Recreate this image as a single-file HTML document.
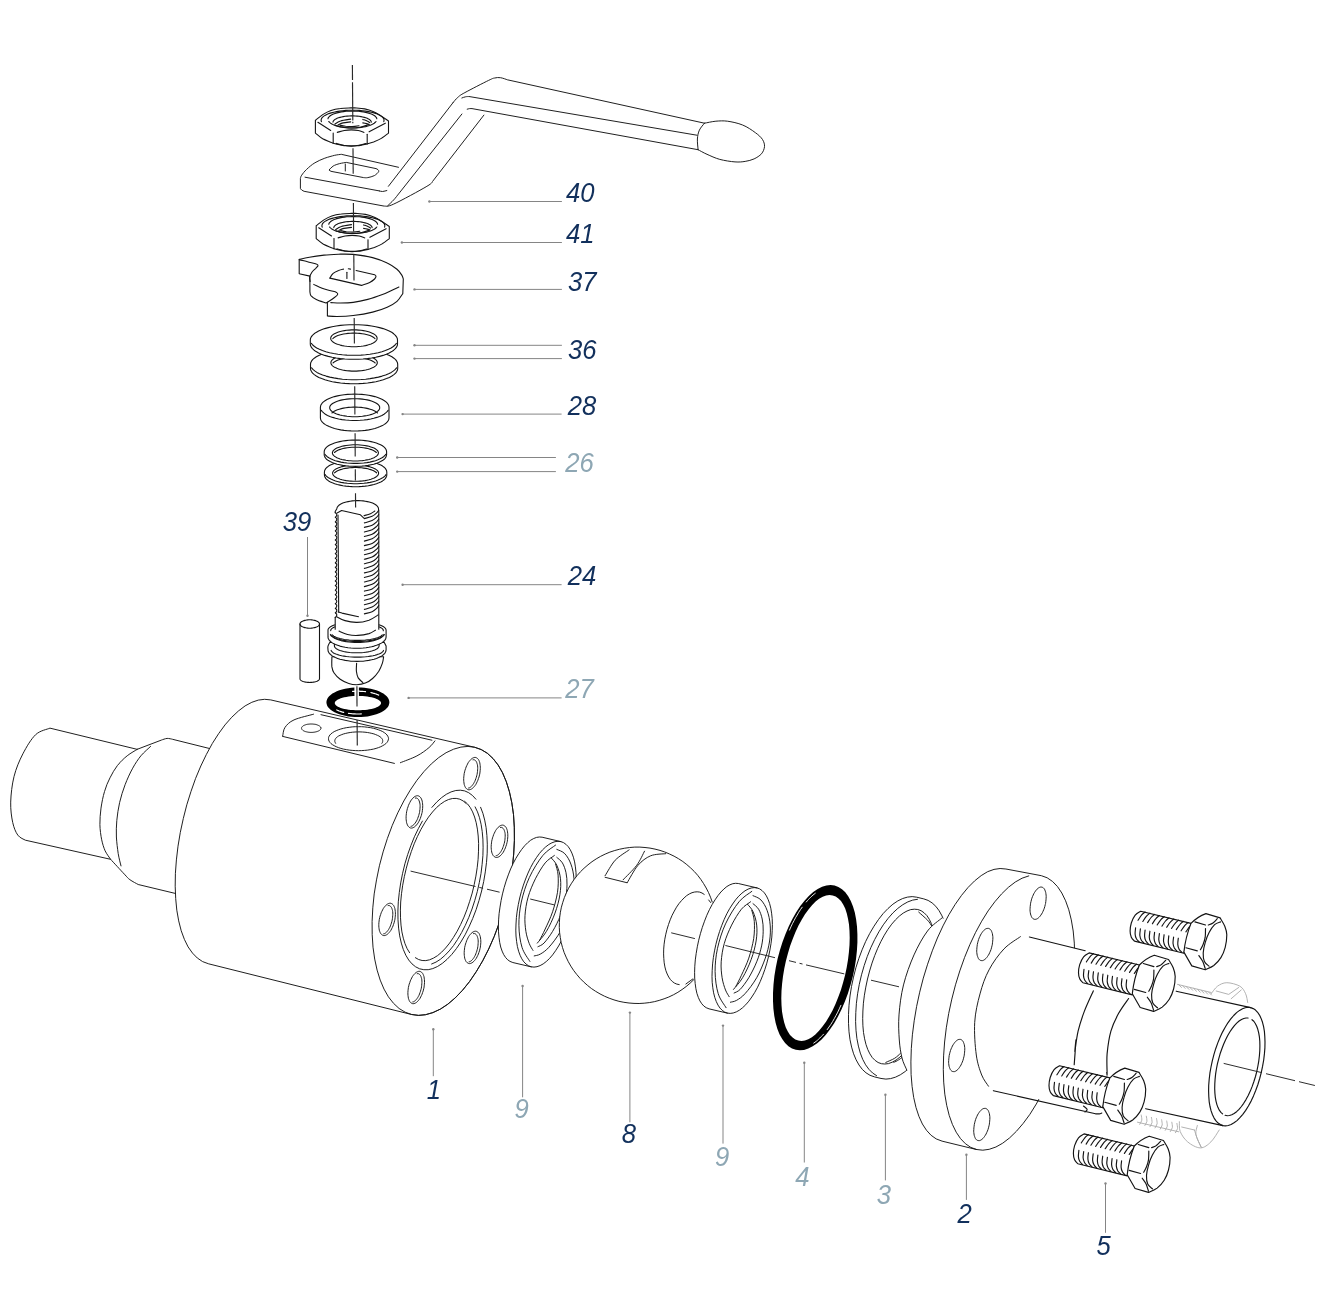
<!DOCTYPE html>
<html><head><meta charset="utf-8"><title>Ball valve exploded view</title><style>html,body{margin:0;padding:0;background:#fff}svg{display:block;will-change:transform}</style></head><body>
<svg width="1337" height="1307" viewBox="0 0 1337 1307">
<style>.k{fill:none;stroke:#141414;stroke-width:1.1;stroke-linecap:round;stroke-linejoin:round}.kw{fill:#fff;stroke:#141414;stroke-width:1.1;stroke-linecap:round;stroke-linejoin:round}.b{fill:none;stroke:#141414;stroke-width:1.15;stroke-linecap:round;stroke-linejoin:round}.bw{fill:#fff;stroke:#141414;stroke-width:1.15;stroke-linecap:round;stroke-linejoin:round}.t{fill:none;stroke:#141414;stroke-width:0.95;stroke-linecap:round;stroke-linejoin:round}.tw{fill:#fff;stroke:#141414;stroke-width:0.95;stroke-linecap:round;stroke-linejoin:round}.m{fill:none;stroke:#141414;stroke-width:0.95;stroke-linecap:round;stroke-linejoin:round}.mw{fill:#fff;stroke:#141414;stroke-width:0.95;stroke-linecap:round;stroke-linejoin:round}.w{fill:#fff;stroke:none}.c{fill:none;stroke:#222;stroke-width:0.95}.cv{fill:none;stroke:#2a2a2a;stroke-width:1.15}.blk{fill:#000;fill-rule:evenodd;stroke:none}.hl{fill:none;stroke:#fff;stroke-width:0.9;stroke-linecap:round}.hl2{fill:none;stroke:#fff;stroke-width:1.2;stroke-linecap:round}.halo{fill:none;stroke:#fff;stroke-width:4.5}.gh{fill:none;stroke:#a9a9a9;stroke-width:0.9;stroke-linecap:round}.ld{fill:none;stroke:#858585;stroke-width:1}.dot{fill:#858585}text{font-family:"Liberation Sans",sans-serif;font-style:italic;font-size:27.6px}</style>
<rect width="1337" height="1307" fill="#fff"/>
<path class="tw" d="M49.6,728.3 C47.3,729.4 40.1,730.4 35.6,734.7 C31.2,738.9 26.5,746.8 22.9,753.8 C19.3,760.7 16,768.6 14,776.6 C12,784.7 10.9,794.4 10.7,802.1 C10.5,809.7 11.5,816.9 12.7,822.4 C13.9,827.9 15.7,832.2 17.8,835.1 C19.9,838.1 24.2,839.4 25.4,840.2 L110.6,859.3 C112.9,861.8 121.2,870.8 124.4,874.2 C127.6,877.6 127.6,878 129.9,879.7 C132.2,881.4 136.8,883.7 138.2,884.5 L178.1,894.1 L213.9,749.6 L172.6,739.3 C171.7,739.1 168.9,738.3 167.1,738.4 C165.3,738.6 162.5,739.7 161.6,740 L137.5,749.2 Z"/>
<path class="t" d="M137.5,749.2 C135.8,750.3 130.5,753.1 127.2,755.8 C123.8,758.5 120.4,761.8 117.5,765.4 C114.7,769.1 112.1,773.5 110,777.8 C107.8,782.2 105.9,786.5 104.5,791.6 C103,796.6 101.8,802.6 101,808.1 C100.3,813.6 99.8,819.3 99.9,824.6 C100,829.9 100.8,835.4 101.7,839.8 C102.6,844.1 103.7,847.5 105.1,850.8 C106.6,854 109.7,857.9 110.6,859.3"/>
<path class="t" d="M150.6,746.4 C149,748 143.9,752.2 140.9,755.8 C138,759.4 135.3,763.4 132.7,768.2 C130,773 127.3,779 125.1,784.7 C122.9,790.4 121,796.6 119.6,802.6 C118.2,808.6 117.4,814.8 116.8,820.5 C116.3,826.2 116.2,831.5 116.4,837 C116.7,842.5 117.5,848.7 118.2,853.5 C119,858.4 120.5,863.9 121,865.9"/>
<path class="tw" d="M208.3,963.7 L202.6,961.6 L197.3,958 L192.5,953.1 L188.1,946.9 L184.4,939.4 L181.2,930.7 L178.7,920.9 L176.8,910.2 L175.7,898.6 L175.2,886.2 L175.4,873.3 L176.4,859.9 L178,846.2 L180.3,832.4 L183.3,818.5 L186.8,804.8 L191,791.4 L195.6,778.4 L200.8,766 L206.4,754.4 L212.3,743.5 L218.6,733.7 L225,724.9 L231.7,717.3 L238.4,711 L245.1,705.9 L251.8,702.3 L258.3,700.1 L264.6,699.3 L270.7,699.9 L474.8,747.3 L481.3,749.6 L487.4,753.3 L493,758.5 L498.1,765 L502.5,772.7 L506.3,781.7 L509.4,791.7 L511.8,802.7 L513.5,814.6 L514.3,827.2 L514.4,840.3 L513.7,854 L512.3,867.9 L510,881.9 L507.1,896 L503.4,909.9 L499.1,923.4 L494.2,936.5 L488.7,949 L482.7,960.8 L476.3,971.6 L469.6,981.5 L462.5,990.3 L455.2,997.9 L447.8,1004.2 L440.4,1009.1 L432.9,1012.6 L425.6,1014.7 L418.5,1015.4 L411.7,1014.5 Z"/>
<path class="t" d="M507.1,896 L503.4,909.9 L499.1,923.4 L494.2,936.5 L488.7,949 L482.7,960.8 L476.3,971.6 L469.6,981.5 L462.5,990.3 L455.2,997.9 L447.8,1004.2 L440.4,1009.1 L432.9,1012.6 L425.6,1014.7 L418.5,1015.4 L411.7,1014.5 L405.2,1012.2 L399.1,1008.5 L393.5,1003.3 L388.4,996.8 L384,989.1 L380.2,980.1 L377.1,970.1 L374.7,959.1 L373,947.2 L372.2,934.6 L372.1,921.5 L372.8,907.8 L374.2,893.9 L376.5,879.9 L379.4,865.8 L383.1,851.9 L387.4,838.4 L392.3,825.3 L397.8,812.8 L403.8,801 L410.2,790.2 L416.9,780.3 L424,771.5 L431.3,763.9 L438.7,757.6 L446.1,752.7 L453.6,749.2 L460.9,747.1 L468,746.4 L474.8,747.3 L481.3,749.6 L487.4,753.3 L493,758.5 L498.1,765 L502.5,772.7 L506.3,781.7 L509.4,791.7 L511.8,802.7 L513.5,814.6 L514.3,827.2 L514.4,840.3 L513.7,854 L512.3,867.9 L510,881.9 Z"/>
<path class="t" d="M282.7,736.4 L394.4,763.4"/>
<path class="t" d="M321,714.7 L431.9,740.2"/>
<path class="t" d="M282.7,736.1 C283.1,734.7 283.1,730.1 285,727.4 C286.9,724.7 289.2,722.1 294,719.9 C298.7,717.7 310.2,715.2 313.5,714.2"/>
<path class="t" d="M400.4,762.7 C403.2,761.5 412.2,758.4 416.9,755.9 C421.7,753.4 425.9,750.2 428.9,747.7 C431.9,745.2 433.9,742.1 434.9,740.9"/>
<path class="t" d="M320.9,728.2 L320.9,728.6 L320.7,729.1 L320.5,729.5 L320.1,729.9 L319.6,730.3 L319.1,730.7 L318.4,731 L317.7,731.3 L316.9,731.6 L316.1,731.8 L315.2,732 L314.2,732.2 L313.2,732.3 L312.2,732.4 L311.2,732.4 L310.2,732.4 L309.2,732.3 L308.2,732.2 L307.3,732 L306.4,731.8 L305.5,731.6 L304.7,731.3 L304,731 L303.4,730.7 L302.8,730.3 L302.4,729.9 L302,729.5 L301.7,729.1 L301.6,728.6 L301.5,728.2 L301.6,727.7 L301.7,727.3 L302,726.9 L302.4,726.5 L302.8,726.1 L303.4,725.7 L304,725.4 L304.7,725.1 L305.5,724.8 L306.4,724.5 L307.3,724.3 L308.2,724.2 L309.2,724.1 L310.2,724 L311.2,724 L312.2,724 L313.2,724.1 L314.2,724.2 L315.2,724.3 L316.1,724.5 L316.9,724.8 L317.7,725.1 L318.4,725.4 L319.1,725.7 L319.6,726.1 L320.1,726.5 L320.5,726.9 L320.7,727.3 L320.9,727.7 Z"/>
<path class="t" d="M388.5,738.7 L388.3,739.9 L387.8,741.2 L387,742.4 L385.9,743.6 L384.4,744.7 L382.7,745.7 L380.8,746.7 L378.5,747.6 L376.1,748.4 L373.5,749.1 L370.7,749.6 L367.7,750.1 L364.7,750.4 L361.6,750.6 L358.5,750.7 L355.3,750.6 L352.2,750.4 L349.2,750.1 L346.3,749.6 L343.5,749.1 L340.8,748.4 L338.4,747.6 L336.2,746.7 L334.2,745.7 L332.5,744.7 L331,743.6 L329.9,742.4 L329.1,741.2 L328.6,739.9 L328.5,738.7 L328.6,737.4 L329.1,736.2 L329.9,735 L331,733.8 L332.5,732.7 L334.2,731.6 L336.2,730.7 L338.4,729.8 L340.8,729 L343.5,728.3 L346.3,727.7 L349.2,727.3 L352.2,726.9 L355.3,726.7 L358.5,726.7 L361.6,726.7 L364.7,726.9 L367.7,727.3 L370.7,727.7 L373.5,728.3 L376.1,729 L378.5,729.8 L380.8,730.7 L382.7,731.6 L384.4,732.7 L385.9,733.8 L387,735 L387.8,736.2 L388.3,737.4 Z"/>
<path class="t" d="M335.6,743.3 L335.1,742.3 L334.8,741.4 L334.8,740.5 L335.1,739.5 L335.6,738.6 L336.3,737.7 L337.4,736.8 L338.6,736 L340.1,735.3 L341.8,734.6 L343.7,733.9 L345.7,733.4 L347.9,732.9 L350.2,732.5 L352.5,732.2 L355,732 L357.5,731.9 L360,731.9 L362.5,732 L365,732.2 L367.4,732.5 L369.7,732.9 L371.8,733.4 L373.9,733.9 L375.7,734.6 L377.4,735.3 L378.9,736 L380.1,736.8 L381.2,737.7 L381.9,738.6 L382.5,739.5 L382.7,740.5 L382.7,741.4 L382.5,742.3 L381.9,743.3"/>
<path class="t" d="M480.6,807.3 L482.9,813.3 L484.7,820.1 L486.1,827.6 L486.9,835.6 L487.3,844.2 L487.2,853.2 L486.5,862.4 L485.3,871.9 L483.7,881.5 L481.6,891 L479,900.5 L476.1,909.7 L472.7,918.5 L469,926.9 L465.1,934.8 L460.8,942.1 L456.4,948.6 L451.8,954.4 L447,959.4 L442.3,963.4 L437.5,966.5 L432.8,968.6 L428.2,969.7 L423.8,969.7 L419.6,968.8 L415.6,966.8 L412,963.9 L408.7,960 L405.8,955.2 L403.3,949.5 L401.3,943.1 L399.7,935.9 L398.6,928.1 L398,919.8 L397.9,911 L398.3,901.8 L399.3,892.4 L400.7,882.9 L402.6,873.3 L404.9,863.8 L407.7,854.5 L410.9,845.5 L414.4,836.8 L418.3,828.7 L422.4,821.1"/>
<path class="t" d="M431.9,807.4 L436.7,802.1 L441.5,797.7 L446.3,794.3 L451.1,791.9 L455.8,790.5 L460.3,790.2 L464.7,790.9 L468.7,792.7 L472.5,795.5 L475.9,799.2"/>
<path class="t" d="M475.1,806.9 L477.5,811.9 L479.5,817.7 L481.1,824.3 L482.2,831.4 L482.9,839.1 L483.1,847.2 L482.9,855.7 L482.1,864.5 L481,873.5 L479.3,882.5 L477.3,891.5 L474.8,900.4 L472,909 L468.8,917.4 L465.3,925.3 L461.6,932.6 L457.6,939.4 L453.5,945.6 L449.2,950.9 L444.8,955.5 L440.4,959.3 L436,962.1 L431.6,964"/>
<path class="t" d="M464.6,801.3 L467.6,804 L470.3,807.6 L472.6,811.9 L474.6,817 L476.2,822.7 L477.4,829.1 L478.2,836 L478.6,843.4 L478.5,851.2 L478.1,859.3 L477.2,867.7 L475.9,876.1 L474.2,884.6 L472.2,893.1 L469.7,901.3 L467,909.4 L464,917.1 L460.7,924.4 L457.2,931.2 L453.4,937.5 L449.6,943.1 L445.6,948 L441.6,952.2 L437.6,955.6 L433.5,958.1 L429.6,959.8 L425.8,960.6 L422.1,960.5 L418.6,959.5 L415.4,957.7"/>
<path class="t" d="M409.6,952.7 L407.1,948.6 L405,943.7 L403.3,938.2 L401.9,931.9 L401,925.1 L400.5,917.8 L400.4,910.1 L400.7,902 L401.5,893.7 L402.7,885.2 L404.3,876.7 L406.3,868.2 L408.6,859.8 L411.3,851.6 L414.2,843.8 L417.5,836.3 L421,829.3 L424.7,822.9 L428.5,817.1 L432.5,812 L436.5,807.6 L440.6,804.1 L444.7,801.3 L448.6,799.5 L452.5,798.5 L456.2,798.4 L459.8,799.2 L463.1,800.9 L466.1,803.5"/>
<path class="t" d="M479.4,775.3 L479,777 L478.4,778.6 L477.9,780.2 L477.2,781.7 L476.5,783.1 L475.8,784.5 L475,785.6 L474.1,786.7 L473.3,787.6 L472.4,788.4 L471.5,789 L470.7,789.4 L469.8,789.7 L469,789.8 L468.2,789.7 L467.5,789.4 L466.7,788.9 L466.1,788.3 L465.5,787.6 L465,786.6 L464.6,785.6 L464.2,784.4 L464,783 L463.8,781.6 L463.7,780.1 L463.7,778.5 L463.8,776.9 L464,775.2 L464.2,773.5 L464.6,771.9 L465,770.2 L465.6,768.6 L466.1,767 L466.8,765.5 L467.5,764.1 L468.2,762.7 L469,761.6 L469.9,760.5 L470.7,759.6 L471.6,758.8 L472.5,758.2 L473.3,757.8 L474.2,757.5 L475,757.4 L475.8,757.5 L476.5,757.8 L477.3,758.3 L477.9,758.9 L478.5,759.6 L479,760.6 L479.4,761.6 L479.8,762.8 L480,764.2 L480.2,765.6 L480.3,767.1 L480.3,768.7 L480.2,770.3 L480,772 L479.8,773.7 Z"/>
<path class="t" d="M473,759.8 L473.7,759.7 L474.3,759.8 L474.9,760.1 L475.5,760.6 L476,761.1 L476.4,761.8 L476.8,762.7 L477.1,763.7 L477.4,764.7 L477.6,765.9 L477.7,767.2 L477.7,768.5 L477.6,769.9 L477.5,771.4 L477.3,772.9 L477.1,774.3 L476.7,775.8 L476.3,777.3 L475.8,778.7 L475.3,780.1 L474.8,781.4 L474.1,782.6 L473.5,783.7 L472.8,784.7 L472.1,785.6 L471.4,786.4 L470.7,787 L470,787.5 L469.3,787.9 L468.6,788"/>
<path class="t" d="M421.8,813.6 L421.4,815.3 L420.8,816.9 L420.3,818.5 L419.6,820 L418.9,821.4 L418.2,822.8 L417.4,823.9 L416.5,825 L415.7,825.9 L414.8,826.7 L413.9,827.3 L413.1,827.7 L412.2,828 L411.4,828.1 L410.6,828 L409.9,827.7 L409.1,827.2 L408.5,826.6 L407.9,825.9 L407.4,824.9 L407,823.9 L406.6,822.7 L406.4,821.3 L406.2,819.9 L406.1,818.4 L406.1,816.8 L406.2,815.2 L406.4,813.5 L406.6,811.8 L407,810.2 L407.4,808.5 L408,806.9 L408.5,805.3 L409.2,803.8 L409.9,802.4 L410.6,801 L411.4,799.9 L412.3,798.8 L413.1,797.9 L414,797.1 L414.9,796.5 L415.7,796.1 L416.6,795.8 L417.4,795.7 L418.2,795.8 L418.9,796.1 L419.7,796.6 L420.3,797.2 L420.9,797.9 L421.4,798.9 L421.8,799.9 L422.2,801.1 L422.4,802.5 L422.6,803.9 L422.7,805.4 L422.7,807 L422.6,808.6 L422.4,810.3 L422.2,812 Z"/>
<path class="t" d="M415.4,798.1 L416.1,798 L416.7,798.1 L417.3,798.4 L417.9,798.9 L418.4,799.4 L418.8,800.1 L419.2,801 L419.5,802 L419.8,803 L420,804.2 L420.1,805.5 L420.1,806.8 L420,808.2 L419.9,809.7 L419.7,811.2 L419.5,812.6 L419.1,814.1 L418.7,815.6 L418.2,817 L417.7,818.4 L417.2,819.7 L416.5,820.9 L415.9,822 L415.2,823 L414.5,823.9 L413.8,824.7 L413.1,825.3 L412.4,825.8 L411.7,826.2 L411,826.3"/>
<path class="t" d="M506.9,843 L506.5,844.7 L505.9,846.3 L505.4,847.9 L504.7,849.4 L504,850.8 L503.3,852.2 L502.5,853.3 L501.6,854.4 L500.8,855.3 L499.9,856.1 L499,856.7 L498.2,857.1 L497.3,857.4 L496.5,857.5 L495.7,857.4 L495,857.1 L494.2,856.6 L493.6,856 L493,855.3 L492.5,854.3 L492.1,853.3 L491.7,852.1 L491.5,850.7 L491.3,849.3 L491.2,847.8 L491.2,846.2 L491.3,844.6 L491.5,842.9 L491.7,841.2 L492.1,839.6 L492.5,837.9 L493.1,836.3 L493.6,834.7 L494.3,833.2 L495,831.8 L495.7,830.4 L496.5,829.3 L497.4,828.2 L498.2,827.3 L499.1,826.5 L500,825.9 L500.8,825.5 L501.7,825.2 L502.5,825.1 L503.3,825.2 L504,825.5 L504.8,826 L505.4,826.6 L506,827.3 L506.5,828.3 L506.9,829.3 L507.3,830.5 L507.5,831.9 L507.7,833.3 L507.8,834.8 L507.8,836.4 L507.7,838 L507.5,839.7 L507.3,841.4 Z"/>
<path class="t" d="M500.5,827.5 L501.2,827.4 L501.8,827.5 L502.4,827.8 L503,828.3 L503.5,828.8 L503.9,829.5 L504.3,830.4 L504.6,831.4 L504.9,832.4 L505.1,833.6 L505.2,834.9 L505.2,836.2 L505.1,837.6 L505,839.1 L504.8,840.6 L504.6,842 L504.2,843.5 L503.8,845 L503.3,846.4 L502.8,847.8 L502.3,849.1 L501.6,850.3 L501,851.4 L500.3,852.4 L499.6,853.3 L498.9,854.1 L498.2,854.7 L497.5,855.2 L496.8,855.6 L496.1,855.7"/>
<path class="t" d="M394.5,921.1 L394.1,922.8 L393.5,924.4 L393,926 L392.3,927.5 L391.6,928.9 L390.9,930.3 L390.1,931.4 L389.2,932.5 L388.4,933.4 L387.5,934.2 L386.6,934.8 L385.8,935.2 L384.9,935.5 L384.1,935.6 L383.3,935.5 L382.6,935.2 L381.8,934.7 L381.2,934.1 L380.6,933.4 L380.1,932.4 L379.7,931.4 L379.3,930.2 L379.1,928.8 L378.9,927.4 L378.8,925.9 L378.8,924.3 L378.9,922.7 L379.1,921 L379.3,919.3 L379.7,917.7 L380.1,916 L380.7,914.4 L381.2,912.8 L381.9,911.3 L382.6,909.9 L383.3,908.5 L384.1,907.4 L385,906.3 L385.8,905.4 L386.7,904.6 L387.6,904 L388.4,903.6 L389.3,903.3 L390.1,903.2 L390.9,903.3 L391.6,903.6 L392.4,904.1 L393,904.7 L393.6,905.4 L394.1,906.4 L394.5,907.4 L394.9,908.6 L395.1,910 L395.3,911.4 L395.4,912.9 L395.4,914.5 L395.3,916.1 L395.1,917.8 L394.9,919.5 Z"/>
<path class="t" d="M388.1,905.6 L388.8,905.5 L389.4,905.6 L390,905.9 L390.6,906.4 L391.1,906.9 L391.5,907.6 L391.9,908.5 L392.2,909.5 L392.5,910.5 L392.7,911.7 L392.8,913 L392.8,914.3 L392.7,915.7 L392.6,917.2 L392.4,918.7 L392.2,920.1 L391.8,921.6 L391.4,923.1 L390.9,924.5 L390.4,925.9 L389.9,927.2 L389.2,928.4 L388.6,929.5 L387.9,930.5 L387.2,931.4 L386.5,932.2 L385.8,932.8 L385.1,933.3 L384.4,933.7 L383.7,933.8"/>
<path class="t" d="M479.9,949.1 L479.5,950.8 L478.9,952.4 L478.4,954 L477.7,955.5 L477,956.9 L476.3,958.3 L475.5,959.4 L474.6,960.5 L473.8,961.4 L472.9,962.2 L472,962.8 L471.2,963.2 L470.3,963.5 L469.5,963.6 L468.7,963.5 L468,963.2 L467.2,962.7 L466.6,962.1 L466,961.4 L465.5,960.4 L465.1,959.4 L464.7,958.2 L464.5,956.8 L464.3,955.4 L464.2,953.9 L464.2,952.3 L464.3,950.7 L464.5,949 L464.7,947.3 L465.1,945.7 L465.5,944 L466.1,942.4 L466.6,940.8 L467.3,939.3 L468,937.9 L468.7,936.5 L469.5,935.4 L470.4,934.3 L471.2,933.4 L472.1,932.6 L473,932 L473.8,931.6 L474.7,931.3 L475.5,931.2 L476.3,931.3 L477,931.6 L477.8,932.1 L478.4,932.7 L479,933.4 L479.5,934.4 L479.9,935.4 L480.3,936.6 L480.5,938 L480.7,939.4 L480.8,940.9 L480.8,942.5 L480.7,944.1 L480.5,945.8 L480.3,947.5 Z"/>
<path class="t" d="M473.5,933.6 L474.2,933.5 L474.8,933.6 L475.4,933.9 L476,934.4 L476.5,934.9 L476.9,935.6 L477.3,936.5 L477.6,937.5 L477.9,938.5 L478.1,939.7 L478.2,941 L478.2,942.3 L478.1,943.7 L478,945.2 L477.8,946.7 L477.6,948.1 L477.2,949.6 L476.8,951.1 L476.3,952.5 L475.8,953.9 L475.3,955.2 L474.6,956.4 L474,957.5 L473.3,958.5 L472.6,959.4 L471.9,960.2 L471.2,960.8 L470.5,961.3 L469.8,961.7 L469.1,961.8"/>
<path class="t" d="M423.6,989.2 L423.2,990.9 L422.6,992.5 L422.1,994.1 L421.4,995.6 L420.7,997 L420,998.4 L419.2,999.5 L418.3,1000.6 L417.5,1001.5 L416.6,1002.3 L415.7,1002.9 L414.9,1003.3 L414,1003.6 L413.2,1003.7 L412.4,1003.6 L411.7,1003.3 L410.9,1002.8 L410.3,1002.2 L409.7,1001.5 L409.2,1000.5 L408.8,999.5 L408.4,998.3 L408.2,996.9 L408,995.5 L407.9,994 L407.9,992.4 L408,990.8 L408.2,989.1 L408.4,987.4 L408.8,985.8 L409.2,984.1 L409.8,982.5 L410.3,980.9 L411,979.4 L411.7,978 L412.4,976.6 L413.2,975.5 L414.1,974.4 L414.9,973.5 L415.8,972.7 L416.7,972.1 L417.5,971.7 L418.4,971.4 L419.2,971.3 L420,971.4 L420.7,971.7 L421.5,972.2 L422.1,972.8 L422.7,973.5 L423.2,974.5 L423.6,975.5 L424,976.7 L424.2,978.1 L424.4,979.5 L424.5,981 L424.5,982.6 L424.4,984.2 L424.2,985.9 L424,987.6 Z"/>
<path class="t" d="M417.2,973.7 L417.9,973.6 L418.5,973.7 L419.1,974 L419.7,974.5 L420.2,975 L420.6,975.7 L421,976.6 L421.3,977.6 L421.6,978.6 L421.8,979.8 L421.9,981.1 L421.9,982.4 L421.8,983.8 L421.7,985.3 L421.5,986.8 L421.3,988.2 L420.9,989.7 L420.5,991.2 L420,992.6 L419.5,994 L419,995.3 L418.3,996.5 L417.7,997.6 L417,998.6 L416.3,999.5 L415.6,1000.3 L414.9,1000.9 L414.2,1001.4 L413.5,1001.8 L412.8,1001.9"/>
<path class="c" d="M410.6,871.1 L475.5,886.5"/>
<path class="c" d="M479.3,887.4 L483.1,888.3"/>
<path class="c" d="M487,889.2 L499.6,892.2"/>
<path class="tw" d="M512.5,962.4 L510,961.4 L507.7,959.8 L505.6,957.5 L503.7,954.6 L502.1,951.1 L500.7,947 L499.7,942.4 L499,937.3 L498.5,931.8 L498.4,926 L498.6,919.9 L499.1,913.6 L500,907.1 L501.1,900.5 L502.5,893.9 L504.2,887.4 L506.1,881.1 L508.3,874.9 L510.6,869 L513.2,863.4 L515.9,858.3 L518.8,853.6 L521.7,849.4 L524.7,845.7 L527.7,842.7 L530.7,840.2 L533.7,838.5 L536.6,837.4 L539.4,837 L542.1,837.2 L560.8,841.6 L563.5,842.6 L565.9,844.3 L568.2,846.6 L570.2,849.6 L571.9,853.1 L573.4,857.2 L574.6,861.9 L575.4,866.9 L576,872.4 L576.2,878.3 L576,884.4 L575.6,890.8 L574.8,897.3 L573.7,903.8 L572.3,910.4 L570.6,916.9 L568.6,923.3 L566.4,929.4 L564,935.3 L561.4,940.9 L558.6,946 L555.6,950.7 L552.6,954.9 L549.5,958.5 L546.3,961.5 L543.2,963.9 L540.1,965.6 L537,966.7 L534,967.1 L531.2,966.8 Z"/>
<path class="t" d="M531.2,966.8 L528.5,965.8 L526.1,964.1 L523.8,961.8 L521.8,958.8 L520.1,955.3 L518.6,951.2 L517.4,946.5 L516.6,941.5 L516,936 L515.8,930.1 L516,924 L516.4,917.6 L517.2,911.1 L518.3,904.6 L519.7,898 L521.4,891.5 L523.4,885.1 L525.6,879 L528,873.1 L530.6,867.5 L533.4,862.4 L536.4,857.7 L539.4,853.5 L542.5,849.9 L545.7,846.9 L548.8,844.5 L551.9,842.8 L555,841.7 L558,841.3 L560.8,841.6"/>
<path class="t" d="M555.6,845.1 C553.5,846.9 547.2,850.1 542.8,855.5 C538.4,860.9 532.9,869.8 529.3,877.6 C525.7,885.3 523.1,894.1 521.3,902 C519.6,910 518.8,917.8 518.9,925.3 C519,932.9 520.1,941.3 522,947.3 C523.8,953.4 528.6,959.1 529.9,961.4"/>
<path class="t" d="M556.8,849.4 C558.2,850.1 562.5,851.2 564.8,853.7 C567.1,856.1 569.4,859.9 570.9,864.1 C572.5,868.3 573.6,873.7 574,878.8 C574.4,883.9 574.2,889.2 573.4,894.7 C572.6,900.2 571.2,905.7 569.1,911.8 C566.9,918 563.9,925.5 560.5,931.4 C557.1,937.3 552.3,943.6 548.9,947.3 C545.5,951.1 542.8,952.6 540.3,954.1 C537.9,955.5 535.2,955.6 534.2,955.9"/>
<path class="t" d="M556.8,857.4 C557.8,858.3 560.8,860.3 562.4,862.9 C563.9,865.4 565.2,869 566,872.7 C566.8,876.3 567.1,880.4 567,884.9 C566.9,889.4 566.5,894.5 565.4,899.6 C564.3,904.7 562.7,910.2 560.5,915.5 C558.4,920.8 555.3,926.8 552.6,931.4 C549.8,936 546.4,940.5 544,943.1 C541.5,945.6 538.9,946.1 537.9,946.7"/>
<path class="t" d="M554.4,855.5 C552.9,856.8 548.4,859 545.2,862.9 C542.1,866.7 538.3,873.1 535.4,878.8 C532.6,884.5 529.8,891 528.1,897.1 C526.3,903.3 525.4,909.8 525,915.5 C524.6,921.2 525.2,926.7 525.9,931.4 C526.6,936.1 528.1,940.5 529.3,943.7 C530.5,946.8 532.4,949.3 533,950.4"/>
<path class="t" d="M551.3,858 C552.3,859.2 555.3,861.9 556.8,865.3 C558.4,868.8 560,873.9 560.5,878.8 C561,883.7 560.8,889 559.9,894.7 C559,900.4 557.3,906.9 555,913.1 C552.8,919.2 549.4,926.4 546.4,931.4 C543.5,936.4 538.8,941.1 537.3,943.1"/>
<path class="t" d="M555.6,864.1 C556,865.9 557.8,870.4 558.1,875.1 C558.4,879.8 558.4,886.1 557.5,892.3 C556.5,898.4 554.6,905.7 552.6,911.8 C550.5,918 547.4,924.3 545.2,929 C543.1,933.7 540.6,938.2 539.7,940"/>
<path class="c" d="M530.2,899 L554.3,904.9"/>
<path class="w" d="M693.8,979.6 L690.1,983.2 L686.2,986.5 L682.1,989.5 L677.9,992.3 L673.4,994.8 L668.8,997 L664.1,998.8 L659.2,1000.4 L654.3,1001.7 L649.3,1002.6 L644.2,1003.2 L639.1,1003.5 L634,1003.4 L629,1003 L623.9,1002.3 L618.9,1001.3 L614,999.9 L609.2,998.2 L604.5,996.2 L600,993.9 L595.6,991.3 L591.4,988.5 L587.4,985.3 L583.6,981.9 L580,978.3 L576.7,974.4 L573.6,970.4 L570.8,966.1 L568.3,961.7 L566.1,957.1 L564.1,952.4 L562.5,947.5 L561.2,942.6 L560.3,937.6 L559.6,932.5 L559.3,927.5 L559.4,922.4 L559.7,917.3 L560.4,912.2 L561.4,907.2 L562.8,902.3 L564.4,897.5 L566.4,892.8 L568.6,888.2 L571.2,883.8 L574,879.6 L577.1,875.6 L580.5,871.7 L584.1,868.2 L588,864.8 L592,861.7 L596.2,858.9 L600.7,856.3 L605.2,854.1 L609.9,852.1 L614.8,850.5 L619.7,849.2 L624.7,848.2 L629.7,847.5 L634.8,847.1 L639.9,847.1 L645,847.5 L650,848.1 L655,849.1 L660,850.4 L664.8,852 L669.5,854 L674.1,856.2 L678.5,858.7 L682.8,861.5 L686.8,864.6 L690.7,868 L694.3,871.5 L697.7,875.3 L700.8,879.4 L703.6,883.6 L706.2,888 L708.5,892.5 L710.5,897.2 L712.2,902 L704.2,894.4 L702,893 L699.7,892.1 L697.2,891.8 L694.7,892 L692,892.7 L689.4,893.9 L686.7,895.6 L684.1,897.9 L681.5,900.6 L678.9,903.7 L676.5,907.2 L674.3,911.1 L672.1,915.3 L670.2,919.8 L668.5,924.5 L667,929.3 L665.8,934.2 L664.8,939.2 L664.1,944.2 L663.7,949.1 L663.6,953.9 L663.8,958.5 L664.2,962.8 L664.9,966.9 L665.9,970.7 L667.2,974 L668.7,977 L670.4,979.5 L672.3,981.5 L674.5,983.1 L676.8,984.1 L679.2,984.6 Z"/>
<path class="t" d="M693.8,979.6 L690.1,983.2 L686.2,986.5 L682.1,989.5 L677.9,992.3 L673.4,994.8 L668.8,997 L664.1,998.8 L659.2,1000.4 L654.3,1001.7 L649.3,1002.6 L644.2,1003.2 L639.1,1003.5 L634,1003.4 L629,1003 L623.9,1002.3 L618.9,1001.3 L614,999.9 L609.2,998.2 L604.5,996.2 L600,993.9 L595.6,991.3 L591.4,988.5 L587.4,985.3 L583.6,981.9 L580,978.3 L576.7,974.4 L573.6,970.4 L570.8,966.1 L568.3,961.7 L566.1,957.1 L564.1,952.4 L562.5,947.5 L561.2,942.6 L560.3,937.6 L559.6,932.5 L559.3,927.5 L559.4,922.4 L559.7,917.3 L560.4,912.2 L561.4,907.2 L562.8,902.3 L564.4,897.5 L566.4,892.8 L568.6,888.2 L571.2,883.8 L574,879.6 L577.1,875.6 L580.5,871.7 L584.1,868.2 L588,864.8 L592,861.7 L596.2,858.9 L600.7,856.3 L605.2,854.1 L609.9,852.1 L614.8,850.5 L619.7,849.2 L624.7,848.2 L629.7,847.5 L634.8,847.1 L639.9,847.1 L645,847.5 L650,848.1 L655,849.1 L660,850.4 L664.8,852 L669.5,854 L674.1,856.2 L678.5,858.7 L682.8,861.5 L686.8,864.6 L690.7,868 L694.3,871.5 L697.7,875.3 L700.8,879.4 L703.6,883.6 L706.2,888 L708.5,892.5 L710.5,897.2 L712.2,902"/>
<path class="t" d="M704.2,894.4 L702,893 L699.7,892.1 L697.2,891.8 L694.7,892 L692,892.7 L689.4,893.9 L686.7,895.6 L684.1,897.9 L681.5,900.6 L678.9,903.7 L676.5,907.2 L674.3,911.1 L672.1,915.3 L670.2,919.8 L668.5,924.5 L667,929.3 L665.8,934.2 L664.8,939.2 L664.1,944.2 L663.7,949.1 L663.6,953.9 L663.8,958.5 L664.2,962.8 L664.9,966.9 L665.9,970.7 L667.2,974 L668.7,977 L670.4,979.5 L672.3,981.5 L674.5,983.1 L676.8,984.1 L679.2,984.6"/>
<path class="t" d="M685.9,984 L692.9,978.9"/>
<path class="t" d="M708.7,900 L710.6,902.5"/>
<path class="t" d="M629.1,849.9 C626.8,851.6 619.2,856 615.2,860.2 C611.3,864.5 606.8,873.1 605.1,875.7"/>
<path class="t" d="M644.5,851.2 C643.2,853.5 640.3,860.5 636.7,865.3 C633.1,870.1 625.3,877.4 623.1,879.8"/>
<path class="t" d="M605.1,877.3 L626.9,882.7"/>
<path class="t" d="M665.7,853.7 C663.2,854 655.2,853.9 650.6,855.8 C646,857.8 641.9,860.8 638,865.3 C634.1,869.8 629,879.8 627.2,882.7"/>
<path class="c" d="M671.2,932.8 L694.9,938.6"/>
<path class="tw" d="M708.7,1008.7 L706.2,1007.7 L703.9,1006.1 L701.8,1003.8 L699.9,1000.9 L698.3,997.4 L696.9,993.3 L695.9,988.7 L695.2,983.6 L694.7,978.1 L694.6,972.3 L694.8,966.2 L695.3,959.9 L696.2,953.4 L697.3,946.8 L698.7,940.2 L700.4,933.7 L702.3,927.4 L704.5,921.2 L706.8,915.3 L709.4,909.7 L712.1,904.6 L715,899.9 L717.9,895.7 L720.9,892 L723.9,889 L726.9,886.5 L729.9,884.8 L732.8,883.7 L735.6,883.3 L738.3,883.5 L757,887.9 L759.7,888.9 L762.1,890.6 L764.4,892.9 L766.4,895.9 L768.1,899.4 L769.6,903.5 L770.8,908.2 L771.6,913.2 L772.2,918.7 L772.4,924.6 L772.2,930.7 L771.8,937.1 L771,943.6 L769.9,950.1 L768.5,956.7 L766.8,963.2 L764.8,969.6 L762.6,975.7 L760.2,981.6 L757.6,987.2 L754.8,992.3 L751.8,997 L748.8,1001.2 L745.7,1004.8 L742.5,1007.8 L739.4,1010.2 L736.3,1011.9 L733.2,1013 L730.2,1013.4 L727.4,1013.1 Z"/>
<path class="t" d="M727.4,1013.1 L724.7,1012.1 L722.3,1010.4 L720,1008.1 L718,1005.1 L716.3,1001.6 L714.8,997.5 L713.6,992.8 L712.8,987.8 L712.2,982.3 L712,976.4 L712.2,970.3 L712.6,963.9 L713.4,957.4 L714.5,950.9 L715.9,944.3 L717.6,937.8 L719.6,931.4 L721.8,925.3 L724.2,919.4 L726.8,913.8 L729.6,908.7 L732.6,904 L735.6,899.8 L738.7,896.2 L741.9,893.2 L745,890.8 L748.1,889.1 L751.2,888 L754.2,887.6 L757,887.9"/>
<path class="t" d="M751.8,891.4 C749.7,893.2 743.4,896.4 739,901.8 C734.6,907.2 729.1,916.1 725.5,923.9 C721.9,931.6 719.3,940.4 717.5,948.3 C715.8,956.3 715,964.1 715.1,971.6 C715.2,979.2 716.3,987.6 718.2,993.6 C720,999.7 724.8,1005.4 726.1,1007.7"/>
<path class="t" d="M753,895.7 C754.4,896.4 758.7,897.5 761,900 C763.3,902.4 765.6,906.2 767.1,910.4 C768.7,914.6 769.8,920 770.2,925.1 C770.6,930.2 770.4,935.5 769.6,941 C768.8,946.5 767.4,952 765.3,958.1 C763.1,964.3 760.1,971.8 756.7,977.7 C753.3,983.6 748.5,989.9 745.1,993.6 C741.7,997.4 739,998.9 736.5,1000.4 C734.1,1001.8 731.4,1001.9 730.4,1002.2"/>
<path class="t" d="M753,903.7 C754,904.6 757,906.6 758.6,909.2 C760.1,911.7 761.4,915.3 762.2,919 C763,922.6 763.3,926.7 763.2,931.2 C763.1,935.7 762.7,940.8 761.6,945.9 C760.5,951 758.9,956.5 756.7,961.8 C754.6,967.1 751.5,973.1 748.8,977.7 C746,982.3 742.6,986.8 740.2,989.4 C737.7,991.9 735.1,992.4 734.1,993"/>
<path class="t" d="M750.6,901.8 C749.1,903.1 744.6,905.3 741.4,909.2 C738.3,913 734.5,919.4 731.6,925.1 C728.8,930.8 726,937.3 724.3,943.4 C722.5,949.6 721.6,956.1 721.2,961.8 C720.8,967.5 721.4,973 722.1,977.7 C722.8,982.4 724.3,986.8 725.5,990 C726.7,993.1 728.6,995.6 729.2,996.7"/>
<path class="t" d="M747.5,904.3 C748.5,905.5 751.5,908.2 753,911.6 C754.6,915.1 756.2,920.2 756.7,925.1 C757.2,930 757,935.3 756.1,941 C755.2,946.7 753.5,953.2 751.2,959.4 C749,965.5 745.6,972.7 742.6,977.7 C739.7,982.7 735,987.4 733.5,989.4"/>
<path class="t" d="M751.8,910.4 C752.2,912.2 754,916.7 754.3,921.4 C754.6,926.1 754.6,932.4 753.7,938.6 C752.7,944.7 750.8,952 748.8,958.1 C746.7,964.3 743.6,970.6 741.4,975.3 C739.3,980 736.8,984.5 735.9,986.3"/>
<path class="c" d="M725.4,945.5 L775,957.7"/>
<path class="tw" d="M874.3,1076.8 L870,1075.3 L866,1072.8 L862.3,1069.4 L859,1065 L856.1,1059.8 L853.6,1053.8 L851.6,1047.1 L850,1039.7 L849,1031.8 L848.5,1023.3 L848.5,1014.5 L849,1005.3 L850,996 L851.5,986.5 L853.5,977.1 L855.9,967.7 L858.8,958.6 L862.1,949.8 L865.7,941.4 L869.7,933.5 L874,926.2 L878.5,919.5 L883.1,913.6 L888,908.5 L892.9,904.2 L897.8,900.9 L902.7,898.5 L907.5,897.1 L912.2,896.6 L916.7,897.2 L923.8,898.9 L928.1,900.4 L932.1,902.9 L935.8,906.3 L939.1,910.7 L942,915.9 L944.5,921.9 L946.5,928.6 L948.1,936 L949.1,943.9 L949.6,952.4 L949.6,961.2 L949.1,970.4 L948.1,979.7 L946.6,989.2 L944.6,998.6 L942.2,1008 L939.3,1017.1 L936,1025.9 L932.4,1034.3 L928.4,1042.2 L924.1,1049.5 L919.6,1056.2 L915,1062.1 L910.1,1067.2 L905.2,1071.5 L900.3,1074.8 L895.4,1077.2 L890.6,1078.6 L885.9,1079.1 L881.4,1078.5 Z"/>
<path class="t" d="M876.6,1075.7 L872.6,1073 L868.9,1069.3 L865.6,1064.8 L862.7,1059.3 L860.3,1053.1 L858.4,1046.1 L856.9,1038.5 L856,1030.3 L855.6,1021.6 L855.8,1012.6 L856.4,1003.3 L857.6,993.8 L859.3,984.3 L861.5,974.8 L864.2,965.5 L867.3,956.4 L870.8,947.7 L874.7,939.5 L878.9,931.8 L883.3,924.8 L888,918.5 L892.8,913 L897.8,908.4 L902.8,904.7 L907.8,901.9 L912.7,900.1 L917.5,899.3"/>
<path class="t" d="M931.7,994.2 L929.6,1002.2 L927.2,1010.1 L924.5,1017.6 L921.5,1024.9 L918.3,1031.7 L914.9,1038 L911.3,1043.8 L907.5,1049 L903.7,1053.4 L899.9,1057.1 L896,1060.1 L892.2,1062.2 L888.5,1063.6 L884.8,1064 L881.4,1063.7 L878.1,1062.5 L875.1,1060.4 L872.3,1057.6 L869.9,1053.9 L867.8,1049.6 L866,1044.5 L864.6,1038.8 L863.5,1032.5 L862.9,1025.8 L862.7,1018.6 L862.9,1011 L863.4,1003.2 L864.4,995.2 L865.8,987.1 L867.5,979 L869.6,971 L872,963.1 L874.7,955.6 L877.7,948.3 L880.9,941.5 L884.3,935.2 L887.9,929.4 L891.7,924.2 L895.5,919.8 L899.3,916.1 L903.2,913.1 L907,911 L910.7,909.6 L914.4,909.2 L917.8,909.5 L921.1,910.7 L924.1,912.8 L926.9,915.6 L929.3,919.3 L931.4,923.6 L933.2,928.7 L934.6,934.4 L935.7,940.7 L936.3,947.4 L936.5,954.6 L936.3,962.2 L935.8,970 L934.8,978 L933.4,986.1 Z"/>
<path class="t" d="M918.7,912.1 C920.2,913.5 925.4,917.9 927.6,920.2 C929.7,922.4 930.9,924.9 931.6,925.8"/>
<path class="t" d="M885.8,1062.4 C887.3,1061.7 892.2,1059.8 894.6,1058.3 C897,1056.9 899.3,1054.3 900.3,1053.5"/>
<path class="t" d="M893.8,1062.4 C894.6,1062 897.3,1060.8 898.6,1059.9 C900,1059.1 901.3,1057.9 901.9,1057.5"/>
<path class="w" d="M941.7,918.2 C939.4,920.3 932.1,924.8 927.5,931 C922.9,937.1 918,946 914,954.9 C910,963.9 906,974.9 903.5,984.9 C901,994.9 899.7,1005.7 899,1014.9 C898.3,1024.1 898.8,1032.8 899.3,1040 C899.8,1047.2 900.8,1053 902,1058 C903.2,1063 906,1068 906.8,1070 L960,1100 L990,930 Z"/>
<path class="m" d="M941.7,918.2 C939.4,920.3 932.1,924.8 927.5,931 C922.9,937.1 918,946 914,954.9 C910,963.9 906,974.9 903.5,984.9 C901,994.9 899.7,1005.7 899,1014.9 C898.3,1024.1 898.8,1032.8 899.3,1040 C899.8,1047.2 900.8,1053 902,1058 C903.2,1063 906,1068 906.8,1070"/>
<path class="mw" d="M941.7,1141 L936.2,1138.9 L931.1,1135.3 L926.5,1130.3 L922.4,1124 L918.9,1116.3 L916,1107.5 L913.7,1097.5 L912.1,1086.5 L911.1,1074.6 L910.9,1061.9 L911.3,1048.6 L912.4,1034.8 L914.2,1020.8 L916.6,1006.5 L919.7,992.2 L923.3,978.1 L927.6,964.2 L932.3,950.8 L937.4,938 L943,925.9 L948.9,914.7 L955.1,904.5 L961.5,895.4 L968,887.5 L974.6,880.9 L981.2,875.6 L987.6,871.7 L994,869.4 L1000.1,868.5 L1005.9,869 L1041.4,875.7 L1047.2,877.8 L1052.6,881.5 L1057.5,886.6 L1061.8,893 L1065.6,900.8 L1068.8,909.8 L1071.3,919.9 L1073.2,931 L1074.3,943.1 L1074.7,955.9 L1074.4,969.3 L1073.4,983.2 L1071.7,997.4 L1069.3,1011.7 L1066.2,1026.1 L1062.5,1040.4 L1058.2,1054.3 L1053.4,1067.8 L1048.1,1080.7 L1042.4,1092.8 L1036.3,1104 L1029.9,1114.3 L1023.2,1123.4 L1016.4,1131.3 L1009.6,1137.9 L1002.7,1143.2 L995.9,1147 L989.2,1149.3 L982.8,1150.2 L976.6,1149.5 Z"/>
<path class="m" d="M976.6,1149.5 L970.8,1147.4 L965.4,1143.7 L960.5,1138.6 L956.2,1132.2 L952.4,1124.4 L949.2,1115.4 L946.7,1105.3 L944.8,1094.2 L943.7,1082.1 L943.3,1069.3 L943.6,1055.9 L944.6,1042 L946.3,1027.8 L948.7,1013.5 L951.8,999.1 L955.5,984.8 L959.8,970.9 L964.6,957.4 L969.9,944.5 L975.6,932.4 L981.7,921.2 L988.1,910.9 L994.8,901.8 L1001.6,893.9 L1008.4,887.3 L1015.3,882 L1022.1,878.2 L1028.8,875.9"/>
<path class="m" d="M1045.2,904.9 L1044.8,906.5 L1044.3,908.2 L1043.7,909.8 L1043,911.3 L1042.4,912.7 L1041.6,914 L1040.8,915.2 L1040,916.3 L1039.2,917.2 L1038.4,917.9 L1037.5,918.6 L1036.7,919 L1035.9,919.3 L1035.1,919.3 L1034.3,919.3 L1033.6,919 L1032.9,918.6 L1032.3,918 L1031.7,917.2 L1031.3,916.3 L1030.9,915.2 L1030.5,914 L1030.3,912.7 L1030.1,911.3 L1030,909.8 L1030.1,908.2 L1030.2,906.6 L1030.4,904.9 L1030.6,903.2 L1031,901.5 L1031.4,899.9 L1031.9,898.2 L1032.5,896.6 L1033.2,895.1 L1033.8,893.7 L1034.6,892.4 L1035.4,891.2 L1036.2,890.1 L1037,889.2 L1037.8,888.5 L1038.7,887.8 L1039.5,887.4 L1040.3,887.1 L1041.1,887.1 L1041.9,887.1 L1042.6,887.4 L1043.3,887.8 L1043.9,888.4 L1044.5,889.2 L1044.9,890.1 L1045.3,891.2 L1045.7,892.4 L1045.9,893.7 L1046.1,895.1 L1046.2,896.6 L1046.1,898.2 L1046,899.8 L1045.8,901.5 L1045.6,903.2 Z"/>
<path class="m" d="M991.9,946.2 L991.5,947.8 L991,949.5 L990.4,951.1 L989.7,952.6 L989.1,954 L988.3,955.3 L987.5,956.5 L986.7,957.6 L985.9,958.5 L985.1,959.2 L984.2,959.9 L983.4,960.3 L982.6,960.6 L981.8,960.6 L981,960.6 L980.3,960.3 L979.6,959.9 L979,959.3 L978.4,958.5 L978,957.6 L977.6,956.5 L977.2,955.3 L977,954 L976.8,952.6 L976.7,951.1 L976.8,949.5 L976.9,947.9 L977.1,946.2 L977.3,944.5 L977.7,942.8 L978.1,941.2 L978.6,939.5 L979.2,937.9 L979.9,936.4 L980.5,935 L981.3,933.7 L982.1,932.5 L982.9,931.4 L983.7,930.5 L984.5,929.8 L985.4,929.1 L986.2,928.7 L987,928.4 L987.8,928.4 L988.6,928.4 L989.3,928.7 L990,929.1 L990.6,929.7 L991.2,930.5 L991.6,931.4 L992,932.5 L992.4,933.7 L992.6,935 L992.8,936.4 L992.9,937.9 L992.8,939.5 L992.7,941.1 L992.5,942.8 L992.3,944.5 Z"/>
<path class="m" d="M963.8,1057.2 L963.4,1058.8 L962.9,1060.5 L962.3,1062.1 L961.6,1063.6 L961,1065 L960.2,1066.3 L959.4,1067.5 L958.6,1068.6 L957.8,1069.5 L957,1070.2 L956.1,1070.9 L955.3,1071.3 L954.5,1071.6 L953.7,1071.6 L952.9,1071.6 L952.2,1071.3 L951.5,1070.9 L950.9,1070.3 L950.3,1069.5 L949.9,1068.6 L949.5,1067.5 L949.1,1066.3 L948.9,1065 L948.7,1063.6 L948.6,1062.1 L948.7,1060.5 L948.8,1058.9 L949,1057.2 L949.2,1055.5 L949.6,1053.8 L950,1052.2 L950.5,1050.5 L951.1,1048.9 L951.8,1047.4 L952.4,1046 L953.2,1044.7 L954,1043.5 L954.8,1042.4 L955.6,1041.5 L956.4,1040.8 L957.3,1040.1 L958.1,1039.7 L958.9,1039.4 L959.7,1039.4 L960.5,1039.4 L961.2,1039.7 L961.9,1040.1 L962.5,1040.7 L963.1,1041.5 L963.5,1042.4 L963.9,1043.5 L964.3,1044.7 L964.5,1046 L964.7,1047.4 L964.8,1048.9 L964.7,1050.5 L964.6,1052.1 L964.4,1053.8 L964.2,1055.5 Z"/>
<path class="m" d="M988.9,1126.2 L988.5,1127.8 L988,1129.5 L987.4,1131.1 L986.7,1132.6 L986.1,1134 L985.3,1135.3 L984.5,1136.5 L983.7,1137.6 L982.9,1138.5 L982.1,1139.2 L981.2,1139.9 L980.4,1140.3 L979.6,1140.6 L978.8,1140.6 L978,1140.6 L977.3,1140.3 L976.6,1139.9 L976,1139.3 L975.4,1138.5 L975,1137.6 L974.6,1136.5 L974.2,1135.3 L974,1134 L973.8,1132.6 L973.7,1131.1 L973.8,1129.5 L973.9,1127.9 L974.1,1126.2 L974.3,1124.5 L974.7,1122.8 L975.1,1121.2 L975.6,1119.5 L976.2,1117.9 L976.9,1116.4 L977.5,1115 L978.3,1113.7 L979.1,1112.5 L979.9,1111.4 L980.7,1110.5 L981.5,1109.8 L982.4,1109.1 L983.2,1108.7 L984,1108.4 L984.8,1108.4 L985.6,1108.4 L986.3,1108.7 L987,1109.1 L987.6,1109.7 L988.2,1110.5 L988.6,1111.4 L989,1112.5 L989.4,1113.7 L989.6,1115 L989.8,1116.4 L989.9,1117.9 L989.8,1119.5 L989.7,1121.1 L989.5,1122.8 L989.3,1124.5 Z"/>
<path class="w" d="M1020.4,936.7 C1017.7,938.7 1009.2,943.4 1003.9,949 C998.7,954.5 992.9,962.4 989,969.9 C985,977.4 982.3,985.2 980,993.9 C977.6,1002.7 975.3,1012.2 974.7,1022.4 C974.1,1032.6 975.1,1046.2 976.3,1055 C977.5,1063.8 979.7,1069.8 981.7,1075 C983.7,1080.2 987.4,1084.3 988.5,1086.2 L1095.5,1113.8 L1106.7,1072.2 L1128.6,998.5 L1085.2,950.7 L1029.4,937 Z"/>
<path class="m" d="M1020.4,936.7 C1017.7,938.7 1009.2,943.4 1003.9,949 C998.7,954.5 992.9,962.4 989,969.9 C985,977.4 982.3,985.2 980,993.9 C977.6,1002.7 975.3,1012.2 974.7,1022.4 C974.1,1032.6 975.1,1046.2 976.3,1055 C977.5,1063.8 979.7,1069.8 981.7,1075 C983.7,1080.2 987.4,1084.3 988.5,1086.2"/>
<path class="b" d="M1029.4,937 L1085.2,950.7"/>
<path class="b" d="M993.4,1090.7 L1095.5,1113.8 C1096.1,1113.8 1098.2,1114 1099.2,1113.9 C1100.3,1113.8 1101.3,1113.2 1101.8,1113"/>
<path class="b" d="M1083.5,1106 C1084.1,1106.5 1087,1108.4 1087.2,1109.4 C1087.5,1110.4 1085.4,1111.5 1085,1112"/>
<path class="b" d="M1093.3,990.9 C1091.8,994.3 1087,1004.4 1084.4,1011.1 C1081.9,1017.8 1079.7,1024.5 1078.1,1031.2 C1076.5,1038 1075.2,1050 1074.9,1051.4 C1074.5,1052.9 1076.1,1037.8 1076,1040 C1075.9,1042.2 1074.5,1060.6 1074.2,1064.7"/>
<path class="b" d="M1128.6,998.5 C1126.9,1001 1121.4,1008.1 1118.5,1013.6 C1115.5,1019.1 1112.8,1024.5 1110.9,1031.2 C1109,1038 1107.8,1046.8 1107.1,1053.9 C1106.5,1061.1 1107.2,1071.1 1107.1,1074.1 C1107.1,1077.2 1106.8,1072.5 1106.7,1072.2"/>
<path class="w" d="M1176.2,991.2 L1250.7,1007.6 L1253.2,1008.6 L1255.5,1010.1 L1257.6,1012.3 L1259.5,1015.1 L1261.1,1018.4 L1262.5,1022.3 L1263.6,1026.7 L1264.4,1031.4 L1264.8,1036.6 L1265,1042.1 L1264.9,1047.9 L1264.4,1053.9 L1263.7,1060 L1262.6,1066.2 L1261.3,1072.4 L1259.7,1078.5 L1257.9,1084.5 L1255.8,1090.3 L1253.5,1095.9 L1251.1,1101.1 L1248.4,1106 L1245.7,1110.4 L1242.8,1114.3 L1239.9,1117.7 L1237,1120.6 L1234,1122.8 L1231.1,1124.5 L1228.3,1125.5 L1225.5,1125.9 L1222.9,1125.6 L1145.7,1108.7 Z"/>
<path class="b" d="M1176.2,991.2 L1250.7,1007.6 L1253.2,1008.6 L1255.5,1010.1 L1257.6,1012.3 L1259.5,1015.1 L1261.1,1018.4 L1262.5,1022.3 L1263.6,1026.7 L1264.4,1031.4 L1264.8,1036.6 L1265,1042.1 L1264.9,1047.9 L1264.4,1053.9 L1263.7,1060 L1262.6,1066.2 L1261.3,1072.4 L1259.7,1078.5 L1257.9,1084.5 L1255.8,1090.3 L1253.5,1095.9 L1251.1,1101.1 L1248.4,1106 L1245.7,1110.4 L1242.8,1114.3 L1239.9,1117.7 L1237,1120.6 L1234,1122.8 L1231.1,1124.5 L1228.3,1125.5 L1225.5,1125.9 L1222.9,1125.6 L1145.7,1108.7"/>
<path class="b" d="M1222.9,1125.6 L1220.4,1124.6 L1218.1,1123.1 L1216,1120.9 L1214.1,1118.1 L1212.5,1114.8 L1211.1,1110.9 L1210,1106.5 L1209.2,1101.8 L1208.8,1096.6 L1208.6,1091.1 L1208.7,1085.3 L1209.2,1079.3 L1209.9,1073.2 L1211,1067 L1212.3,1060.8 L1213.9,1054.7 L1215.7,1048.7 L1217.8,1042.9 L1220.1,1037.3 L1222.5,1032.1 L1225.2,1027.2 L1227.9,1022.8 L1230.8,1018.9 L1233.7,1015.5 L1236.6,1012.6 L1239.6,1010.4 L1242.5,1008.7 L1245.3,1007.7 L1248.1,1007.3 L1250.7,1007.6"/>
<path class="b" d="M1252,1019.7 L1253.8,1021.3 L1255.3,1023.5 L1256.7,1026.2 L1257.8,1029.3 L1258.7,1032.9 L1259.4,1036.9 L1259.8,1041.2 L1259.9,1045.8 L1259.8,1050.6 L1259.4,1055.7 L1258.8,1060.8 L1257.9,1066 L1256.8,1071.3 L1255.5,1076.5 L1253.9,1081.5 L1252.2,1086.4 L1250.3,1091.1 L1248.2,1095.5 L1246,1099.6 L1243.7,1103.3 L1241.4,1106.5 L1239,1109.4 L1236.6,1111.7 L1234.1,1113.5 L1231.8,1114.8 L1229.5,1115.5 L1227.2,1115.7 L1225.1,1115.3"/>
<path class="b" d="M1222.6,1113.9 L1220.9,1112.3 L1219.3,1110.2 L1218,1107.6 L1216.9,1104.6 L1216,1101.1 L1215.3,1097.3 L1214.9,1093.1 L1214.7,1088.7 L1214.8,1084 L1215.1,1079.1 L1215.6,1074.1 L1216.4,1069 L1217.4,1063.9 L1218.7,1058.8 L1220.1,1053.8 L1221.8,1049 L1223.6,1044.3 L1225.5,1039.9 L1227.6,1035.8 L1229.8,1032 L1232.1,1028.6 L1234.4,1025.6 L1236.7,1023.1 L1239.1,1021 L1241.5,1019.5 L1243.8,1018.5 L1246,1018 L1248.1,1018"/>
<path class="blk" d="M852.8,976.6 L850.5,985.1 L847.9,993.5 L844.9,1001.5 L841.6,1009.2 L838,1016.5 L834.2,1023.2 L830.1,1029.3 L825.9,1034.7 L821.6,1039.4 L817.2,1043.3 L812.7,1046.3 L808.3,1048.6 L804,1049.9 L799.8,1050.3 L795.8,1049.8 L792,1048.5 L788.4,1046.2 L785.1,1043.1 L782.2,1039.1 L779.6,1034.4 L777.4,1028.9 L775.6,1022.8 L774.3,1016.1 L773.4,1008.8 L773,1001.1 L773,993 L773.5,984.6 L774.4,976.1 L775.8,967.5 L777.6,958.8 L779.9,950.3 L782.5,941.9 L785.5,933.9 L788.8,926.2 L792.4,918.9 L796.2,912.2 L800.3,906.1 L804.5,900.7 L808.8,896 L813.2,892.1 L817.7,889.1 L822.1,886.8 L826.4,885.5 L830.6,885.1 L834.6,885.6 L838.4,886.9 L842,889.2 L845.3,892.3 L848.2,896.3 L850.8,901 L853,906.5 L854.8,912.6 L856.1,919.3 L857,926.6 L857.4,934.3 L857.4,942.4 L856.9,950.8 L856,959.3 L854.6,967.9 Z M845.1,975 L843.1,982.5 L840.9,989.9 L838.3,997.1 L835.5,1003.9 L832.5,1010.4 L829.3,1016.3 L826,1021.8 L822.5,1026.6 L819,1030.8 L815.4,1034.4 L811.9,1037.2 L808.3,1039.2 L804.9,1040.5 L801.5,1040.9 L798.3,1040.6 L795.3,1039.5 L792.6,1037.6 L790,1034.9 L787.8,1031.5 L785.8,1027.4 L784.2,1022.6 L783,1017.3 L782,1011.4 L781.5,1005 L781.3,998.2 L781.5,991.1 L782.1,983.8 L783,976.3 L784.3,968.6 L785.9,961 L787.9,953.5 L790.1,946.1 L792.7,938.9 L795.5,932.1 L798.5,925.6 L801.7,919.7 L805,914.2 L808.5,909.4 L812,905.2 L815.6,901.6 L819.1,898.8 L822.7,896.8 L826.1,895.5 L829.5,895.1 L832.7,895.4 L835.7,896.5 L838.4,898.4 L841,901.1 L843.2,904.5 L845.2,908.6 L846.8,913.4 L848,918.7 L849,924.6 L849.5,931 L849.7,937.8 L849.5,944.9 L848.9,952.2 L848,959.7 L846.7,967.4 Z"/>
<path class="hl" d="M789.5,930.1 L790.9,926.9 L792.4,923.7 L794,920.7 L795.5,917.8 L797.2,915 L798.8,912.2 L800.5,909.6 L802.2,907.2"/>
<path class="hl" d="M806.3,902 L807.4,900.7 L808.5,899.5 L809.6,898.3 L810.7,897.2 L811.9,896.1 L813,895.1 L814.1,894.2 L815.3,893.3"/>
<path class="hl" d="M840.9,1005.3 L839.3,1008.8 L837.8,1012.1 L836.1,1015.3 L834.4,1018.4 L832.7,1021.4 L830.9,1024.3 L829,1027 L827.2,1029.6"/>
<path class="hl" d="M823.5,1034.2 L822.3,1035.5 L821,1036.8 L819.8,1038 L818.6,1039.2 L817.4,1040.3 L816.2,1041.3 L815,1042.2 L813.7,1043.1"/>
<path class="c" d="M789,960.7 L796,962.4"/>
<path class="c" d="M799.5,963.3 L802.5,964"/>
<path class="c" d="M806,964.9 L844.3,973.9"/>
<path class="c" d="M871,980.2 L899,986.8"/>
<path class="c" d="M1223.7,1063.4 L1262,1072.7"/>
<path class="c" d="M1266,1073.7 L1295,1080.7"/>
<path class="c" d="M1299,1081.7 L1314.9,1085.5"/>
<path class="gh" d="M1178.7,984.7 L1181.5,987.5"/>
<path class="gh" d="M1182.5,985.7 L1185.2,988.4"/>
<path class="gh" d="M1186.2,986.6 L1189,989.4"/>
<path class="gh" d="M1190,987.6 L1192.7,990.3"/>
<path class="gh" d="M1193.7,988.5 L1196.5,991.2"/>
<path class="gh" d="M1197.5,989.4 L1200.2,992.2"/>
<path class="gh" d="M1201.2,990.4 L1204,993.1"/>
<path class="gh" d="M1205,991.3 L1207.7,994.1"/>
<path class="gh" d="M1208.7,992.2 L1211.5,995"/>
<path class="gh" d="M1177.5,984.4 L1211.2,992.5"/>
<path class="gh" d="M1211.2,993.7 C1212.3,992.5 1214.9,988.1 1217.5,986.2 C1220.1,984.4 1223.1,982.7 1226.8,982.7 C1230.6,982.7 1236.8,984.4 1239.9,986.2 C1243.1,988.1 1244.3,991 1245.6,993.7 C1246.9,996.4 1247.3,1001 1247.7,1002.5"/>
<path class="gh" d="M1216.2,991 L1228.7,994.4 L1238.7,987.5"/>
<path class="gh" d="M1231.2,998.7 L1241.2,990"/>
<path class="gh" d="M1141.2,1115 C1141.3,1115.8 1142,1118.7 1141.8,1120.2 C1141.5,1121.8 1140,1123.6 1139.7,1124.3"/>
<path class="gh" d="M1146.3,1116.2 C1146.4,1117 1147.1,1119.9 1146.9,1121.4 C1146.6,1123 1145.1,1124.8 1144.8,1125.5"/>
<path class="gh" d="M1151.4,1117.4 C1151.5,1118.2 1152.2,1121.1 1152,1122.6 C1151.7,1124.2 1150.2,1126 1149.9,1126.7"/>
<path class="gh" d="M1156.5,1118.6 C1156.6,1119.4 1157.3,1122.3 1157.1,1123.8 C1156.8,1125.4 1155.3,1127.2 1155,1127.9"/>
<path class="gh" d="M1161.6,1119.8 C1161.7,1120.6 1162.4,1123.5 1162.2,1125 C1161.9,1126.6 1160.4,1128.4 1160.1,1129.1"/>
<path class="gh" d="M1166.7,1121 C1166.8,1121.8 1167.5,1124.7 1167.3,1126.2 C1167,1127.8 1165.5,1129.6 1165.2,1130.3"/>
<path class="gh" d="M1171.8,1122.2 C1171.9,1123 1172.6,1125.9 1172.4,1127.4 C1172.1,1129 1170.6,1130.8 1170.3,1131.5"/>
<path class="gh" d="M1176.9,1123.4 C1177,1124.2 1177.7,1127.1 1177.5,1128.6 C1177.2,1130.2 1175.7,1132 1175.4,1132.7"/>
<path class="gh" d="M1137.5,1122.2 L1178.7,1131.8"/>
<path class="gh" d="M1179.4,1121.7 C1179.6,1123.3 1178.8,1128.1 1180.2,1131.5 C1181.6,1134.8 1184.3,1139.2 1187.7,1141.9 C1191,1144.7 1196.5,1147.9 1200.4,1147.9 C1204.3,1147.9 1207.8,1144.9 1210.9,1141.9 C1214,1139 1217.8,1132 1219.2,1130"/>
<path class="gh" d="M1181.7,1127 L1194.4,1130"/>
<path class="gh" d="M1197.4,1125.5 C1197.2,1127 1195.3,1130.8 1195.9,1134.5 C1196.5,1138.1 1200.3,1145.1 1201.2,1147.2"/>
<path class="gh" d="M1194.4,1130 C1194.9,1131.5 1196.3,1136.1 1197.4,1139 C1198.5,1141.8 1200.5,1145.8 1201.2,1147.2"/>
<path class="bw" d="M1140.7,911.3 C1139.8,911.9 1136.8,913.2 1135.2,915.2 C1133.7,917.1 1132.2,920.4 1131.3,923 C1130.5,925.7 1130.1,928.5 1130.1,930.9 C1130.1,933.3 1130.6,935.5 1131.3,937.2 C1132,938.9 1133.9,940.5 1134.5,941.1 L1183.9,953.3 L1191,923.4 Z"/>
<path class="b" d="M1145.1,912 C1144.5,912.6 1142.7,913.8 1141.5,915.2 C1140.3,916.6 1138.6,919.4 1138,920.3"/>
<path class="b" d="M1149.9,913.2 C1149.3,913.7 1147.5,915 1146.3,916.3 C1145.1,917.7 1143.4,920.6 1142.8,921.5"/>
<path class="b" d="M1154.6,914.4 C1154.1,914.9 1152.3,916.1 1151.1,917.5 C1149.9,918.9 1148.2,921.8 1147.6,922.6"/>
<path class="b" d="M1159.4,915.5 C1158.8,916.1 1157.1,917.3 1155.9,918.7 C1154.7,920 1153,922.9 1152.4,923.8"/>
<path class="b" d="M1164.2,916.7 C1163.6,917.2 1161.9,918.5 1160.7,919.8 C1159.5,921.2 1157.7,924.1 1157.2,924.9"/>
<path class="b" d="M1169,917.9 C1168.4,918.4 1166.7,919.6 1165.5,921 C1164.3,922.4 1162.5,925.3 1161.9,926.1"/>
<path class="b" d="M1173.8,919 C1173.2,919.5 1171.5,920.8 1170.3,922.2 C1169.1,923.5 1167.3,926.4 1166.7,927.3"/>
<path class="b" d="M1178.6,920.2 C1178,920.7 1176.2,921.9 1175.1,923.3 C1173.9,924.7 1172.1,927.6 1171.5,928.4"/>
<path class="b" d="M1183.4,921.3 C1182.8,921.9 1181,923.1 1179.9,924.5 C1178.7,925.9 1176.9,928.7 1176.3,929.6"/>
<path class="b" d="M1188.2,922.5 C1187.6,923 1185.8,924.3 1184.7,925.6 C1183.5,927 1181.7,929.9 1181.1,930.8"/>
<path class="b" d="M1193,923.7 C1192.4,924.2 1190.6,925.4 1189.4,926.8 C1188.3,928.2 1186.5,931.1 1185.9,931.9"/>
<path class="b" d="M1135.6,927.8 C1135.5,928.8 1135,932.2 1135.1,934 C1135.2,935.9 1135.7,937.4 1136.4,938.7 C1137.1,940.1 1138.7,941.4 1139.2,941.9"/>
<path class="b" d="M1140.4,928.9 C1140.3,930 1139.7,933.4 1139.8,935.2 C1140,937 1140.5,938.6 1141.2,939.9 C1141.8,941.2 1143.5,942.5 1143.9,943.1"/>
<path class="b" d="M1145.1,930.1 C1145,931.1 1144.4,934.5 1144.6,936.4 C1144.7,938.2 1145.2,939.8 1145.9,941.1 C1146.6,942.4 1148.2,943.7 1148.7,944.2"/>
<path class="b" d="M1149.9,931.2 C1149.8,932.3 1149.2,935.7 1149.3,937.5 C1149.4,939.4 1150,940.9 1150.7,942.2 C1151.3,943.5 1152.9,944.9 1153.4,945.4"/>
<path class="b" d="M1154.6,932.4 C1154.5,933.4 1153.9,936.9 1154.1,938.7 C1154.2,940.5 1154.7,942.1 1155.4,943.4 C1156.1,944.7 1157.7,946 1158.1,946.5"/>
<path class="b" d="M1159.4,933.6 C1159.3,934.6 1158.7,938 1158.8,939.8 C1158.9,941.7 1159.5,943.3 1160.1,944.6 C1160.8,945.9 1162.4,947.2 1162.9,947.7"/>
<path class="b" d="M1164.1,934.7 C1164,935.8 1163.4,939.2 1163.5,941 C1163.7,942.8 1164.2,944.4 1164.9,945.7 C1165.6,947 1167.2,948.3 1167.6,948.9"/>
<path class="b" d="M1168.8,935.9 C1168.7,936.9 1168.2,940.3 1168.3,942.2 C1168.4,944 1168.9,945.6 1169.6,946.9 C1170.3,948.2 1171.9,949.5 1172.4,950"/>
<path class="b" d="M1173.6,937.1 C1173.5,938.1 1172.9,941.5 1173,943.3 C1173.2,945.2 1173.7,946.7 1174.4,948.1 C1175.1,949.4 1176.7,950.7 1177.1,951.2"/>
<path class="b" d="M1178.3,938.2 C1178.2,939.3 1177.6,942.7 1177.8,944.5 C1177.9,946.3 1178.4,947.9 1179.1,949.2 C1179.8,950.5 1181.4,951.8 1181.9,952.4"/>
<path class="bw" d="M1191,923.4 Q1197.3,916.8 1205.9,913.6 L1220.1,917.9 C1220.9,919.3 1223.7,923.4 1224.8,926.2 C1225.9,929 1226.7,931.3 1226.8,934.8 C1226.8,938.4 1226.2,943.6 1225.2,947.4 C1224.2,951.2 1222.8,954.6 1220.9,957.6 C1219,960.6 1216.4,963.4 1213.8,965.5 C1211.2,967.5 1206.6,969.1 1205.2,969.8 L1191.8,965.9 L1183.9,952.1 Q1185.5,937.2 1191,923.4 Z"/>
<path class="b" d="M1220.5,921.9 C1219.5,922.3 1216.5,922.8 1214.6,924.6 C1212.7,926.4 1210.7,929.5 1209.1,932.5 C1207.5,935.5 1206.1,939.3 1205.2,942.7 C1204.2,946.1 1203.3,949.7 1203.2,952.9 C1203.1,956 1203.4,959.3 1204.4,961.5 C1205.4,963.8 1208.3,965.5 1209.1,966.2"/>
<path class="b" d="M1194.9,921.9 L1205.5,925"/>
<path class="b" d="M1208.3,925 C1209.1,924.7 1211.5,924.1 1213,923 C1214.5,922 1216.6,919.4 1217.3,918.7"/>
<path class="b" d="M1205.5,928.5 C1205.5,930 1205.5,934.6 1205.2,937.2 C1204.8,939.8 1204,942.2 1203.2,944.2 C1202.4,946.3 1200.9,948.8 1200.4,949.7"/>
<path class="b" d="M1185.9,947.8 L1197.3,950.9"/>
<path class="b" d="M1198.9,955.6 C1199.5,956.6 1201.8,959.4 1202.8,961.5 C1203.8,963.7 1204.8,967.4 1205.2,968.6"/>
<path class="bw" d="M1089.1,952.9 C1088.2,953.5 1085.2,954.8 1083.6,956.8 C1082.1,958.7 1080.6,962 1079.7,964.6 C1078.9,967.3 1078.5,970.1 1078.5,972.5 C1078.5,974.9 1079,977.1 1079.7,978.8 C1080.4,980.5 1082.3,982.1 1082.9,982.7 L1132.3,994.9 L1139.4,965 Z"/>
<path class="b" d="M1093.5,953.6 C1092.9,954.2 1091.1,955.4 1089.9,956.8 C1088.7,958.2 1087,961 1086.4,961.9"/>
<path class="b" d="M1098.3,954.8 C1097.7,955.3 1095.9,956.6 1094.7,957.9 C1093.5,959.3 1091.8,962.2 1091.2,963.1"/>
<path class="b" d="M1103,956 C1102.5,956.5 1100.7,957.7 1099.5,959.1 C1098.3,960.5 1096.6,963.4 1096,964.2"/>
<path class="b" d="M1107.8,957.1 C1107.2,957.7 1105.5,958.9 1104.3,960.3 C1103.1,961.6 1101.4,964.5 1100.8,965.4"/>
<path class="b" d="M1112.6,958.3 C1112,958.8 1110.3,960.1 1109.1,961.4 C1107.9,962.8 1106.1,965.7 1105.6,966.5"/>
<path class="b" d="M1117.4,959.5 C1116.8,960 1115.1,961.2 1113.9,962.6 C1112.7,964 1110.9,966.9 1110.3,967.7"/>
<path class="b" d="M1122.2,960.6 C1121.6,961.1 1119.9,962.4 1118.7,963.8 C1117.5,965.1 1115.7,968 1115.1,968.9"/>
<path class="b" d="M1127,961.8 C1126.4,962.3 1124.6,963.5 1123.5,964.9 C1122.3,966.3 1120.5,969.2 1119.9,970"/>
<path class="b" d="M1131.8,962.9 C1131.2,963.5 1129.4,964.7 1128.3,966.1 C1127.1,967.5 1125.3,970.3 1124.7,971.2"/>
<path class="b" d="M1136.6,964.1 C1136,964.6 1134.2,965.9 1133.1,967.2 C1131.9,968.6 1130.1,971.5 1129.5,972.4"/>
<path class="b" d="M1141.4,965.3 C1140.8,965.8 1139,967 1137.8,968.4 C1136.7,969.8 1134.9,972.7 1134.3,973.5"/>
<path class="b" d="M1084,969.4 C1083.9,970.4 1083.4,973.8 1083.5,975.6 C1083.6,977.5 1084.1,979 1084.8,980.3 C1085.5,981.7 1087.1,983 1087.6,983.5"/>
<path class="b" d="M1088.8,970.5 C1088.7,971.6 1088.1,975 1088.2,976.8 C1088.4,978.6 1088.9,980.2 1089.6,981.5 C1090.2,982.8 1091.9,984.1 1092.3,984.7"/>
<path class="b" d="M1093.5,971.7 C1093.4,972.7 1092.8,976.1 1093,978 C1093.1,979.8 1093.6,981.4 1094.3,982.7 C1095,984 1096.6,985.3 1097.1,985.8"/>
<path class="b" d="M1098.3,972.8 C1098.2,973.9 1097.6,977.3 1097.7,979.1 C1097.8,981 1098.4,982.5 1099.1,983.8 C1099.7,985.1 1101.3,986.5 1101.8,987"/>
<path class="b" d="M1103,974 C1102.9,975 1102.3,978.5 1102.5,980.3 C1102.6,982.1 1103.1,983.7 1103.8,985 C1104.5,986.3 1106.1,987.6 1106.5,988.1"/>
<path class="b" d="M1107.8,975.2 C1107.7,976.2 1107.1,979.6 1107.2,981.4 C1107.3,983.3 1107.9,984.9 1108.5,986.2 C1109.2,987.5 1110.8,988.8 1111.3,989.3"/>
<path class="b" d="M1112.5,976.3 C1112.4,977.4 1111.8,980.8 1111.9,982.6 C1112.1,984.4 1112.6,986 1113.3,987.3 C1114,988.6 1115.6,989.9 1116,990.5"/>
<path class="b" d="M1117.2,977.5 C1117.1,978.5 1116.6,981.9 1116.7,983.8 C1116.8,985.6 1117.3,987.2 1118,988.5 C1118.7,989.8 1120.3,991.1 1120.8,991.6"/>
<path class="b" d="M1122,978.7 C1121.9,979.7 1121.3,983.1 1121.4,984.9 C1121.6,986.8 1122.1,988.3 1122.8,989.7 C1123.5,991 1125.1,992.3 1125.5,992.8"/>
<path class="b" d="M1126.7,979.8 C1126.6,980.9 1126,984.3 1126.2,986.1 C1126.3,987.9 1126.8,989.5 1127.5,990.8 C1128.2,992.1 1129.8,993.4 1130.3,994"/>
<path class="bw" d="M1139.4,965 Q1145.7,958.4 1154.3,955.2 L1168.5,959.5 C1169.3,960.9 1172.1,965 1173.2,967.8 C1174.3,970.6 1175.1,972.9 1175.2,976.4 C1175.2,980 1174.6,985.2 1173.6,989 C1172.6,992.8 1171.2,996.2 1169.3,999.2 C1167.4,1002.2 1164.8,1005 1162.2,1007.1 C1159.6,1009.1 1155,1010.7 1153.6,1011.4 L1140.2,1007.5 L1132.3,993.7 Q1133.9,978.8 1139.4,965 Z"/>
<path class="b" d="M1168.9,963.5 C1167.9,963.9 1164.9,964.4 1163,966.2 C1161.1,968 1159.1,971.1 1157.5,974.1 C1155.9,977.1 1154.5,980.9 1153.6,984.3 C1152.6,987.7 1151.7,991.3 1151.6,994.5 C1151.5,997.6 1151.8,1000.9 1152.8,1003.1 C1153.8,1005.4 1156.7,1007.1 1157.5,1007.8"/>
<path class="b" d="M1143.3,963.5 L1153.9,966.6"/>
<path class="b" d="M1156.7,966.6 C1157.5,966.3 1159.9,965.7 1161.4,964.6 C1162.9,963.6 1165,961 1165.7,960.3"/>
<path class="b" d="M1153.9,970.1 C1153.9,971.6 1153.9,976.2 1153.6,978.8 C1153.2,981.4 1152.4,983.8 1151.6,985.8 C1150.8,987.9 1149.3,990.4 1148.8,991.3"/>
<path class="b" d="M1134.3,989.4 L1145.7,992.5"/>
<path class="b" d="M1147.3,997.2 C1147.9,998.2 1150.2,1001 1151.2,1003.1 C1152.2,1005.3 1153.2,1009 1153.6,1010.2"/>
<path class="bw" d="M1059.6,1065.8 C1058.7,1066.4 1055.7,1067.7 1054.1,1069.7 C1052.6,1071.6 1051.1,1074.9 1050.2,1077.5 C1049.4,1080.2 1049,1083 1049,1085.4 C1049,1087.8 1049.5,1090 1050.2,1091.7 C1050.9,1093.4 1052.8,1095 1053.4,1095.6 L1102.8,1107.8 L1109.9,1077.9 Z"/>
<path class="b" d="M1064,1066.5 C1063.4,1067.1 1061.6,1068.3 1060.4,1069.7 C1059.2,1071.1 1057.5,1073.9 1056.9,1074.8"/>
<path class="b" d="M1068.8,1067.7 C1068.2,1068.2 1066.4,1069.5 1065.2,1070.8 C1064,1072.2 1062.3,1075.1 1061.7,1076"/>
<path class="b" d="M1073.5,1068.9 C1073,1069.4 1071.2,1070.6 1070,1072 C1068.8,1073.4 1067.1,1076.3 1066.5,1077.1"/>
<path class="b" d="M1078.3,1070 C1077.7,1070.6 1076,1071.8 1074.8,1073.2 C1073.6,1074.5 1071.9,1077.4 1071.3,1078.3"/>
<path class="b" d="M1083.1,1071.2 C1082.5,1071.7 1080.8,1073 1079.6,1074.3 C1078.4,1075.7 1076.6,1078.6 1076.1,1079.4"/>
<path class="b" d="M1087.9,1072.4 C1087.3,1072.9 1085.6,1074.1 1084.4,1075.5 C1083.2,1076.9 1081.4,1079.8 1080.8,1080.6"/>
<path class="b" d="M1092.7,1073.5 C1092.1,1074 1090.4,1075.3 1089.2,1076.7 C1088,1078 1086.2,1080.9 1085.6,1081.8"/>
<path class="b" d="M1097.5,1074.7 C1096.9,1075.2 1095.1,1076.4 1094,1077.8 C1092.8,1079.2 1091,1082.1 1090.4,1082.9"/>
<path class="b" d="M1102.3,1075.8 C1101.7,1076.4 1099.9,1077.6 1098.8,1079 C1097.6,1080.4 1095.8,1083.2 1095.2,1084.1"/>
<path class="b" d="M1107.1,1077 C1106.5,1077.5 1104.7,1078.8 1103.6,1080.1 C1102.4,1081.5 1100.6,1084.4 1100,1085.3"/>
<path class="b" d="M1111.9,1078.2 C1111.3,1078.7 1109.5,1079.9 1108.3,1081.3 C1107.2,1082.7 1105.4,1085.6 1104.8,1086.4"/>
<path class="b" d="M1054.5,1082.3 C1054.4,1083.3 1053.9,1086.7 1054,1088.5 C1054.1,1090.4 1054.6,1091.9 1055.3,1093.2 C1056,1094.6 1057.6,1095.9 1058.1,1096.4"/>
<path class="b" d="M1059.3,1083.4 C1059.2,1084.5 1058.6,1087.9 1058.7,1089.7 C1058.9,1091.5 1059.4,1093.1 1060.1,1094.4 C1060.7,1095.7 1062.4,1097 1062.8,1097.6"/>
<path class="b" d="M1064,1084.6 C1063.9,1085.6 1063.3,1089 1063.5,1090.9 C1063.6,1092.7 1064.1,1094.3 1064.8,1095.6 C1065.5,1096.9 1067.1,1098.2 1067.6,1098.7"/>
<path class="b" d="M1068.8,1085.7 C1068.7,1086.8 1068.1,1090.2 1068.2,1092 C1068.3,1093.9 1068.9,1095.4 1069.6,1096.7 C1070.2,1098 1071.8,1099.4 1072.3,1099.9"/>
<path class="b" d="M1073.5,1086.9 C1073.4,1087.9 1072.8,1091.4 1073,1093.2 C1073.1,1095 1073.6,1096.6 1074.3,1097.9 C1075,1099.2 1076.6,1100.5 1077,1101"/>
<path class="b" d="M1078.3,1088.1 C1078.2,1089.1 1077.6,1092.5 1077.7,1094.3 C1077.8,1096.2 1078.4,1097.8 1079,1099.1 C1079.7,1100.4 1081.3,1101.7 1081.8,1102.2"/>
<path class="b" d="M1083,1089.2 C1082.9,1090.3 1082.3,1093.7 1082.4,1095.5 C1082.6,1097.3 1083.1,1098.9 1083.8,1100.2 C1084.5,1101.5 1086.1,1102.8 1086.5,1103.4"/>
<path class="b" d="M1087.7,1090.4 C1087.6,1091.4 1087.1,1094.8 1087.2,1096.7 C1087.3,1098.5 1087.8,1100.1 1088.5,1101.4 C1089.2,1102.7 1090.8,1104 1091.3,1104.5"/>
<path class="b" d="M1092.5,1091.6 C1092.4,1092.6 1091.8,1096 1091.9,1097.8 C1092.1,1099.7 1092.6,1101.2 1093.3,1102.6 C1094,1103.9 1095.6,1105.2 1096,1105.7"/>
<path class="b" d="M1097.2,1092.7 C1097.1,1093.8 1096.5,1097.2 1096.7,1099 C1096.8,1100.8 1097.3,1102.4 1098,1103.7 C1098.7,1105 1100.3,1106.3 1100.8,1106.9"/>
<path class="bw" d="M1109.9,1077.9 Q1116.2,1071.3 1124.8,1068.1 L1139,1072.4 C1139.8,1073.8 1142.6,1077.9 1143.7,1080.7 C1144.8,1083.5 1145.6,1085.8 1145.7,1089.3 C1145.7,1092.9 1145.1,1098.1 1144.1,1101.9 C1143.1,1105.7 1141.7,1109.1 1139.8,1112.1 C1137.9,1115.1 1135.3,1117.9 1132.7,1120 C1130.1,1122 1125.5,1123.6 1124.1,1124.3 L1110.7,1120.4 L1102.8,1106.6 Q1104.4,1091.7 1109.9,1077.9 Z"/>
<path class="b" d="M1139.4,1076.4 C1138.4,1076.8 1135.4,1077.3 1133.5,1079.1 C1131.6,1080.9 1129.6,1084 1128,1087 C1126.4,1090 1125,1093.8 1124.1,1097.2 C1123.1,1100.6 1122.2,1104.2 1122.1,1107.4 C1122,1110.5 1122.3,1113.8 1123.3,1116 C1124.3,1118.3 1127.2,1120 1128,1120.7"/>
<path class="b" d="M1113.8,1076.4 L1124.4,1079.5"/>
<path class="b" d="M1127.2,1079.5 C1128,1079.2 1130.4,1078.6 1131.9,1077.5 C1133.4,1076.5 1135.5,1073.9 1136.2,1073.2"/>
<path class="b" d="M1124.4,1083 C1124.4,1084.5 1124.4,1089.1 1124.1,1091.7 C1123.7,1094.3 1122.9,1096.7 1122.1,1098.7 C1121.3,1100.8 1119.8,1103.3 1119.3,1104.2"/>
<path class="b" d="M1104.8,1102.3 L1116.2,1105.4"/>
<path class="b" d="M1117.8,1110.1 C1118.4,1111.1 1120.7,1113.9 1121.7,1116 C1122.7,1118.2 1123.7,1121.9 1124.1,1123.1"/>
<path class="bw" d="M1084,1133.9 C1083.1,1134.5 1080.1,1135.8 1078.5,1137.8 C1077,1139.7 1075.5,1143 1074.6,1145.6 C1073.8,1148.3 1073.4,1151.1 1073.4,1153.5 C1073.4,1155.9 1073.9,1158.1 1074.6,1159.8 C1075.3,1161.5 1077.2,1163.1 1077.8,1163.7 L1127.2,1175.9 L1134.3,1146 Z"/>
<path class="b" d="M1088.4,1134.6 C1087.8,1135.2 1086,1136.4 1084.8,1137.8 C1083.6,1139.2 1081.9,1142 1081.3,1142.9"/>
<path class="b" d="M1093.2,1135.8 C1092.6,1136.3 1090.8,1137.6 1089.6,1138.9 C1088.4,1140.3 1086.7,1143.2 1086.1,1144.1"/>
<path class="b" d="M1097.9,1137 C1097.4,1137.5 1095.6,1138.7 1094.4,1140.1 C1093.2,1141.5 1091.5,1144.4 1090.9,1145.2"/>
<path class="b" d="M1102.7,1138.1 C1102.1,1138.7 1100.4,1139.9 1099.2,1141.3 C1098,1142.6 1096.3,1145.5 1095.7,1146.4"/>
<path class="b" d="M1107.5,1139.3 C1106.9,1139.8 1105.2,1141.1 1104,1142.4 C1102.8,1143.8 1101,1146.7 1100.5,1147.5"/>
<path class="b" d="M1112.3,1140.5 C1111.7,1141 1110,1142.2 1108.8,1143.6 C1107.6,1145 1105.8,1147.9 1105.2,1148.7"/>
<path class="b" d="M1117.1,1141.6 C1116.5,1142.1 1114.8,1143.4 1113.6,1144.8 C1112.4,1146.1 1110.6,1149 1110,1149.9"/>
<path class="b" d="M1121.9,1142.8 C1121.3,1143.3 1119.5,1144.5 1118.4,1145.9 C1117.2,1147.3 1115.4,1150.2 1114.8,1151"/>
<path class="b" d="M1126.7,1143.9 C1126.1,1144.5 1124.3,1145.7 1123.2,1147.1 C1122,1148.5 1120.2,1151.3 1119.6,1152.2"/>
<path class="b" d="M1131.5,1145.1 C1130.9,1145.6 1129.1,1146.9 1128,1148.2 C1126.8,1149.6 1125,1152.5 1124.4,1153.4"/>
<path class="b" d="M1136.3,1146.3 C1135.7,1146.8 1133.9,1148 1132.7,1149.4 C1131.6,1150.8 1129.8,1153.7 1129.2,1154.5"/>
<path class="b" d="M1078.9,1150.4 C1078.8,1151.4 1078.3,1154.8 1078.4,1156.6 C1078.5,1158.5 1079,1160 1079.7,1161.3 C1080.4,1162.7 1082,1164 1082.5,1164.5"/>
<path class="b" d="M1083.7,1151.5 C1083.6,1152.6 1083,1156 1083.1,1157.8 C1083.3,1159.6 1083.8,1161.2 1084.5,1162.5 C1085.1,1163.8 1086.8,1165.1 1087.2,1165.7"/>
<path class="b" d="M1088.4,1152.7 C1088.3,1153.7 1087.7,1157.1 1087.9,1159 C1088,1160.8 1088.5,1162.4 1089.2,1163.7 C1089.9,1165 1091.5,1166.3 1092,1166.8"/>
<path class="b" d="M1093.2,1153.8 C1093.1,1154.9 1092.5,1158.3 1092.6,1160.1 C1092.7,1162 1093.3,1163.5 1094,1164.8 C1094.6,1166.1 1096.2,1167.5 1096.7,1168"/>
<path class="b" d="M1097.9,1155 C1097.8,1156 1097.2,1159.5 1097.4,1161.3 C1097.5,1163.1 1098,1164.7 1098.7,1166 C1099.4,1167.3 1101,1168.6 1101.4,1169.1"/>
<path class="b" d="M1102.7,1156.2 C1102.6,1157.2 1102,1160.6 1102.1,1162.4 C1102.2,1164.3 1102.8,1165.9 1103.4,1167.2 C1104.1,1168.5 1105.7,1169.8 1106.2,1170.3"/>
<path class="b" d="M1107.4,1157.3 C1107.3,1158.4 1106.7,1161.8 1106.8,1163.6 C1107,1165.4 1107.5,1167 1108.2,1168.3 C1108.9,1169.6 1110.5,1170.9 1110.9,1171.5"/>
<path class="b" d="M1112.1,1158.5 C1112,1159.5 1111.5,1162.9 1111.6,1164.8 C1111.7,1166.6 1112.2,1168.2 1112.9,1169.5 C1113.6,1170.8 1115.2,1172.1 1115.7,1172.6"/>
<path class="b" d="M1116.9,1159.7 C1116.8,1160.7 1116.2,1164.1 1116.3,1165.9 C1116.5,1167.8 1117,1169.3 1117.7,1170.7 C1118.4,1172 1120,1173.3 1120.4,1173.8"/>
<path class="b" d="M1121.6,1160.8 C1121.5,1161.9 1120.9,1165.3 1121.1,1167.1 C1121.2,1168.9 1121.7,1170.5 1122.4,1171.8 C1123.1,1173.1 1124.7,1174.4 1125.2,1175"/>
<path class="bw" d="M1134.3,1146 Q1140.6,1139.4 1149.2,1136.2 L1163.4,1140.5 C1164.2,1141.9 1167,1146 1168.1,1148.8 C1169.2,1151.6 1170,1153.9 1170.1,1157.4 C1170.1,1161 1169.5,1166.2 1168.5,1170 C1167.5,1173.8 1166.1,1177.2 1164.2,1180.2 C1162.3,1183.2 1159.7,1186 1157.1,1188.1 C1154.5,1190.1 1149.9,1191.7 1148.5,1192.4 L1135.1,1188.5 L1127.2,1174.7 Q1128.8,1159.8 1134.3,1146 Z"/>
<path class="b" d="M1163.8,1144.5 C1162.8,1144.9 1159.8,1145.4 1157.9,1147.2 C1156,1149 1154,1152.1 1152.4,1155.1 C1150.8,1158.1 1149.4,1161.9 1148.5,1165.3 C1147.5,1168.7 1146.6,1172.3 1146.5,1175.5 C1146.4,1178.6 1146.7,1181.9 1147.7,1184.1 C1148.7,1186.4 1151.6,1188.1 1152.4,1188.8"/>
<path class="b" d="M1138.2,1144.5 L1148.8,1147.6"/>
<path class="b" d="M1151.6,1147.6 C1152.4,1147.3 1154.8,1146.7 1156.3,1145.6 C1157.8,1144.6 1159.9,1142 1160.6,1141.3"/>
<path class="b" d="M1148.8,1151.1 C1148.8,1152.6 1148.8,1157.2 1148.5,1159.8 C1148.1,1162.4 1147.3,1164.8 1146.5,1166.8 C1145.7,1168.9 1144.2,1171.4 1143.7,1172.3"/>
<path class="b" d="M1129.2,1170.4 L1140.6,1173.5"/>
<path class="b" d="M1142.2,1178.2 C1142.8,1179.2 1145.1,1182 1146.1,1184.1 C1147.1,1186.3 1148.1,1190 1148.5,1191.2"/>
<path class="blk" d="M389.4,702.3 L389.2,703.8 L388.7,705.4 L387.9,706.9 L386.7,708.3 L385.2,709.7 L383.4,711 L381.3,712.2 L379,713.3 L376.4,714.3 L373.6,715.1 L370.7,715.8 L367.6,716.4 L364.4,716.8 L361.2,717 L357.9,717.1 L354.6,717 L351.4,716.8 L348.2,716.4 L345.1,715.8 L342.1,715.1 L339.4,714.3 L336.8,713.3 L334.5,712.2 L332.4,711 L330.6,709.7 L329.1,708.3 L327.9,706.9 L327.1,705.4 L326.6,703.8 L326.4,702.3 L326.6,700.8 L327.1,699.2 L327.9,697.7 L329.1,696.3 L330.6,694.9 L332.4,693.6 L334.5,692.4 L336.8,691.3 L339.4,690.3 L342.1,689.5 L345.1,688.8 L348.2,688.2 L351.4,687.8 L354.6,687.6 L357.9,687.5 L361.2,687.6 L364.4,687.8 L367.6,688.2 L370.7,688.8 L373.6,689.5 L376.4,690.3 L379,691.3 L381.3,692.4 L383.4,693.6 L385.2,694.9 L386.7,696.3 L387.9,697.7 L388.7,699.2 L389.2,700.8 Z M381,703.1 L380.9,703.9 L380.5,704.6 L379.9,705.3 L379,706 L377.9,706.7 L376.6,707.3 L375.1,707.9 L373.4,708.5 L371.5,708.9 L369.4,709.3 L367.3,709.7 L365,709.9 L362.7,710.1 L360.3,710.3 L357.9,710.3 L355.5,710.3 L353.1,710.1 L350.8,709.9 L348.5,709.7 L346.3,709.3 L344.3,708.9 L342.4,708.5 L340.7,707.9 L339.2,707.3 L337.9,706.7 L336.8,706 L335.9,705.3 L335.3,704.6 L334.9,703.9 L334.8,703.1 L334.9,702.3 L335.3,701.6 L335.9,700.9 L336.8,700.2 L337.9,699.5 L339.2,698.9 L340.7,698.3 L342.4,697.7 L344.3,697.3 L346.3,696.9 L348.5,696.5 L350.8,696.3 L353.1,696.1 L355.5,695.9 L357.9,695.9 L360.3,695.9 L362.7,696.1 L365,696.3 L367.3,696.5 L369.4,696.9 L371.5,697.3 L373.4,697.7 L375.1,698.3 L376.6,698.9 L377.9,699.5 L379,700.2 L379.9,700.9 L380.5,701.6 L380.9,702.3 Z"/>
<path class="hl2" d="M352.6,691.4 L354.2,691.3 L355.9,691.2 L357.5,691.2 L359.1,691.2 L360.7,691.3 L362.3,691.3 L363.9,691.5 L365.5,691.6"/>
<path class="hl2" d="M370.9,692.5 L372,692.8 L373,693.1 L374.1,693.4 L375.1,693.7 L376.1,694 L377,694.4 L377.9,694.7 L378.7,695.1"/>
<path class="hl2" d="M343.7,712.4 L342.7,712.1 L341.8,711.9 L340.9,711.6 L340,711.3 L339.1,711 L338.3,710.6 L337.5,710.3 L336.8,709.9"/>
<path class="hl2" d="M361.3,713.9 L359.6,714 L358,714 L356.4,714 L354.8,713.9 L353.2,713.8 L351.6,713.7 L350,713.5 L348.5,713.3"/>
<path class="halo" d="M356.6,686.5 L356.7,696.5"/>
<path class="kw" d="M300,624 L300,623.5 L300.2,623.1 L300.5,622.7 L300.8,622.3 L301.3,621.9 L301.8,621.5 L302.5,621.2 L303.2,620.9 L304,620.6 L304.9,620.4 L305.8,620.2 L306.7,620 L307.7,619.9 L308.7,619.8 L309.7,619.8 L310.7,619.8 L311.8,619.9 L312.7,620 L313.7,620.2 L314.6,620.4 L315.5,620.6 L316.3,620.9 L317,621.2 L317.6,621.5 L318.2,621.9 L318.6,622.3 L319,622.7 L319.3,623.1 L319.4,623.5 L319.5,624 L319.5,678.7  L319.4,679.1 L319.3,679.5 L319,679.9 L318.6,680.2 L318.2,680.6 L317.6,680.9 L317,681.2 L316.3,681.5 L315.5,681.7 L314.6,682 L313.7,682.1 L312.7,682.3 L311.8,682.4 L310.7,682.4 L309.7,682.5 L308.7,682.4 L307.7,682.4 L306.7,682.3 L305.8,682.1 L304.9,682 L304,681.7 L303.2,681.5 L302.5,681.2 L301.8,680.9 L301.3,680.6 L300.8,680.2 L300.5,679.9 L300.2,679.5 L300,679.1 L300,678.7 Z"/>
<path class="k" d="M319.5,624 L319.4,624.4 L319.3,624.9 L319,625.3 L318.6,625.7 L318.2,626.1 L317.6,626.5 L317,626.8 L316.3,627.1 L315.5,627.4 L314.6,627.6 L313.7,627.8 L312.7,628 L311.8,628.1 L310.7,628.2 L309.7,628.2 L308.7,628.2 L307.7,628.1 L306.7,628 L305.8,627.8 L304.9,627.6 L304,627.4 L303.2,627.1 L302.5,626.8 L301.8,626.5 L301.3,626.1 L300.8,625.7 L300.5,625.3 L300.2,624.9 L300,624.4 L300,624"/>
<path class="kw" d="M331.9,656.8 C331.9,658.5 331.6,664.2 331.9,666.9 C332.3,669.6 332.7,671 334.1,673 C335.5,675.1 337.7,677.4 340.2,679.2 C342.6,680.9 346,682.5 348.8,683.4 C351.5,684.4 354,684.7 356.7,684.7 C359.5,684.6 362.6,684.2 365.3,683.1 C367.9,682.1 370.4,680.5 372.6,678.5 C374.9,676.6 377.1,673.7 378.8,671.2 C380.4,668.6 381.6,665.6 382.4,663.2 C383.2,660.8 383.4,657.9 383.6,656.8 Z"/>
<path class="k" d="M356.6,663.2 C356.6,664.6 356.1,668.8 356.4,671.2 C356.7,673.6 357.2,676 358.2,677.9 C359.3,679.8 362.1,681.8 362.8,682.5"/>
<path class="kw" d="M329.8,642.4 C329.5,643 328.3,644.9 328,646.1 C327.6,647.3 328,649.2 328,649.8 L328.1,651 L328.6,652.2 L329.4,653.4 L330.5,654.5 L331.9,655.6 L333.5,656.6 L335.4,657.6 L337.6,658.4 L339.9,659.2 L342.5,659.8 L345.2,660.4 L348,660.8 L351,661.2 L354,661.3 L357,661.4 L360.1,661.3 L363.1,661.2 L366,660.8 L368.8,660.4 L371.6,659.8 L374.1,659.2 L376.5,658.4 L378.6,657.6 L380.5,656.6 L382.2,655.6 L383.6,654.5 L384.7,653.4 L385.5,652.2 L385.9,651 L386.1,649.8 L386.1,646.1 L384.3,642.4 Z"/>
<path class="k" d="M383.5,650.4 L383.2,651.2 L382.5,651.9 L381.5,652.7 L380.3,653.4 L378.8,654 L377.1,654.6 L375.1,655.2 L373,655.7 L370.6,656.1 L368.2,656.5 L365.6,656.8 L362.9,657 L360.1,657.1 L357.3,657.1 L354.5,657.1 L351.8,657 L349.1,656.8 L346.5,656.5 L344,656.1 L341.7,655.7 L339.6,655.2 L337.6,654.6 L335.9,654 L334.4,653.4 L333.1,652.7 L332.2,651.9 L331.5,651.2 L331.1,650.4"/>
<path class="kw" d="M379.1,644 L379.1,645.8 L378.9,646.5 L378.6,647.3 L378,648 L377.1,648.7 L376.1,649.3 L374.8,649.9 L373.3,650.5 L371.7,651 L369.8,651.5 L367.9,651.9 L365.8,652.2 L363.6,652.5 L361.4,652.7 L359.1,652.8 L356.7,652.8 L354.4,652.8 L352.1,652.7 L349.8,652.5 L347.6,652.2 L345.6,651.9 L343.6,651.5 L341.8,651 L340.1,650.5 L338.6,649.9 L337.4,649.3 L336.3,648.7 L335.5,648 L334.9,647.3 L334.5,646.5 L334.4,645.8 L334.4,644 Z"/>
<path class="kw" d="M328,630.2 L328.1,629.3 L328.6,628.5 L329.4,627.6 L330.5,626.8 L331.9,626.1 L333.5,625.3 L335.4,624.7 L337.6,624.1 L339.9,623.5 L342.5,623 L345.2,622.6 L348,622.3 L351,622.1 L354,622 L357,621.9 L360.1,622 L363.1,622.1 L366,622.3 L368.8,622.6 L371.6,623 L374.1,623.5 L376.5,624.1 L378.6,624.7 L380.5,625.3 L382.2,626.1 L383.6,626.8 L384.7,627.6 L385.5,628.5 L385.9,629.3 L386.1,630.2 L386.1,636.9 L385.9,638.1 L385.5,639.3 L384.7,640.4 L383.6,641.5 L382.2,642.6 L380.5,643.6 L378.6,644.5 L376.5,645.3 L374.1,646.1 L371.6,646.7 L368.8,647.3 L366,647.7 L363.1,648 L360.1,648.2 L357,648.2 L354,648.2 L351,648 L348,647.7 L345.2,647.3 L342.5,646.7 L339.9,646.1 L337.6,645.3 L335.4,644.5 L333.5,643.6 L331.9,642.6 L330.5,641.5 L329.4,640.4 L328.6,639.3 L328.1,638.1 L328,636.9 Z"/>
<path class="k" d="M330.7,630.7 L330.8,630 L331.1,629.3 L331.8,628.6 L332.7,627.9 L333.9,627.3 L335.4,626.7 L337.1,626.1 L339.1,625.6 L341.3,625.1 L343.6,624.7 L346.1,624.4 L348.7,624.1 L351.4,623.9 L354.2,623.8 L357,623.8 L359.8,623.8 L362.6,623.9 L365.3,624.1 L368,624.4 L370.4,624.7 L372.8,625.1 L375,625.6 L376.9,626.1 L378.6,626.7 L380.1,627.3 L381.3,627.9 L382.3,628.6 L382.9,629.3 L383.3,630 L383.3,630.7"/>
<path class="k" d="M384,634.4 L383.5,635.3 L382.6,636.1 L381.5,636.9 L380.1,637.7 L378.4,638.4 L376.6,639 L374.5,639.6 L372.2,640.2 L369.7,640.6 L367.1,641 L364.4,641.2 L361.6,641.4 L358.8,641.5 L355.9,641.5 L353.1,641.4 L350.3,641.2 L347.6,641 L345,640.6 L342.5,640.2 L340.2,639.6 L338.1,639 L336.2,638.4 L334.6,637.7 L333.2,636.9 L332.1,636.1 L331.2,635.3 L330.7,634.4"/>
<path class="k" d="M382.3,634.8 L381.7,635.5 L380.8,636.2 L379.7,636.8 L378.2,637.5 L376.6,638 L374.7,638.6 L372.6,639 L370.3,639.5 L367.9,639.8 L365.4,640.1 L362.7,640.3 L360.1,640.4 L357.3,640.4 L354.6,640.4 L351.9,640.3 L349.3,640.1 L346.8,639.8 L344.3,639.5 L342.1,639 L340,638.6 L338.1,638 L336.4,637.5 L335,636.8 L333.8,636.2 L332.9,635.5 L332.3,634.8"/>
<path class="k" d="M384.3,634.7 L383.5,635.7 L382.5,636.6 L381.2,637.5 L379.6,638.4 L377.8,639.2 L375.8,639.9 L373.5,640.6 L371.1,641.1 L368.5,641.6 L365.8,642 L363.1,642.2 L360.2,642.4 L357.3,642.4 L354.5,642.4 L351.6,642.2 L348.8,642 L346.1,641.6 L343.6,641.1 L341.1,640.6 L338.9,639.9 L336.9,639.2 L335.1,638.4 L333.5,637.5 L332.2,636.6 L331.1,635.7 L330.4,634.7"/>
<path class="w" d="M335.2,629.2 L335.2,511.6 L336.8,508.7 L337,507.9 L337.4,507 L338.1,506.1 L338.9,505.3 L340,504.5 L341.3,503.8 L342.8,503.1 L344.4,502.5 L346.2,502 L348.1,501.6 L350.1,501.2 L352.2,500.9 L354.4,500.7 L356.6,500.6 L358.8,500.6 L361,500.7 L363.1,500.9 L365.2,501.2 L367.3,501.6 L369.2,502 L370.9,502.5 L372.6,503.1 L374,503.8 L375.3,504.5 L376.4,505.3 L377.3,506.1 L377.9,507 L378.4,507.9 L378.5,508.7 L378.8,511.9 L378.8,629.2 Z"/>
<path class="k" d="M335.2,512.7 L335.2,511.6 L336.8,508.7 L337,507.9 L337.4,507 L338.1,506.1 L338.9,505.3 L340,504.5 L341.3,503.8 L342.8,503.1 L344.4,502.5 L346.2,502 L348.1,501.6 L350.1,501.2 L352.2,500.9 L354.4,500.7 L356.6,500.6 L358.8,500.6 L361,500.7 L363.1,500.9 L365.2,501.2 L367.3,501.6 L369.2,502 L370.9,502.5 L372.6,503.1 L374,503.8 L375.3,504.5 L376.4,505.3 L377.3,506.1 L377.9,507 L378.4,507.9 L378.5,508.7 L378.8,511.9 L378.8,629.2"/>
<path class="k" d="M335.2,629.2 L335.2,617.2"/>
<path class="k" d="M337.1,512.9 L341.6,510.5 L360.4,514.8 L364.4,518.6 C365.7,518.2 370.1,517.3 372.1,516.3 C374.2,515.4 375.6,514 376.7,512.9 C377.8,511.9 378.3,510.7 378.7,510.3"/>
<path class="k" d="M338,515.1 L338.7,611.9"/>
<path class="k" d="M338.2,611.9 L342,613.1 L358.5,616.7"/>
<path class="k" d="M364.4,522.9 C365.7,522.5 370.1,521.5 372.1,520.6 C374.2,519.7 375.6,518.2 376.7,517.2 C377.8,516.2 378.4,515 378.7,514.6"/>
<path class="k" d="M364.4,527.4 C365.7,527 370.1,526.1 372.1,525.2 C374.2,524.2 375.6,522.8 376.7,521.8 C377.8,520.8 378.4,519.5 378.7,519.1"/>
<path class="k" d="M364.4,532 C365.7,531.6 370.1,530.6 372.1,529.7 C374.2,528.8 375.6,527.3 376.7,526.3 C377.8,525.3 378.4,524.1 378.7,523.7"/>
<path class="k" d="M364.4,536.5 C365.7,536.1 370.1,535.2 372.1,534.3 C374.2,533.3 375.6,531.9 376.7,530.9 C377.8,529.9 378.4,528.7 378.7,528.2"/>
<path class="k" d="M364.4,541.1 C365.7,540.7 370.1,539.8 372.1,538.8 C374.2,537.9 375.6,536.4 376.7,535.4 C377.8,534.4 378.4,533.2 378.7,532.8"/>
<path class="k" d="M364.4,545.6 C365.7,545.2 370.1,544.3 372.1,543.4 C374.2,542.4 375.6,541 376.7,540 C377.8,539 378.4,537.8 378.7,537.3"/>
<path class="k" d="M364.4,550.2 C365.7,549.8 370.1,548.9 372.1,547.9 C374.2,547 375.6,545.6 376.7,544.5 C377.8,543.5 378.4,542.3 378.7,541.9"/>
<path class="k" d="M364.4,554.7 C365.7,554.3 370.1,553.4 372.1,552.5 C374.2,551.5 375.6,550.1 376.7,549.1 C377.8,548.1 378.4,546.9 378.7,546.4"/>
<path class="k" d="M364.4,559.3 C365.7,558.9 370.1,558 372.1,557 C374.2,556.1 375.6,554.7 376.7,553.7 C377.8,552.6 378.4,551.4 378.7,551"/>
<path class="k" d="M364.4,563.8 C365.7,563.5 370.1,562.5 372.1,561.6 C374.2,560.6 375.6,559.2 376.7,558.2 C377.8,557.2 378.4,556 378.7,555.5"/>
<path class="k" d="M364.4,568.4 C365.7,568 370.1,567.1 372.1,566.1 C374.2,565.2 375.6,563.8 376.7,562.8 C377.8,561.7 378.4,560.5 378.7,560.1"/>
<path class="k" d="M364.4,572.9 C365.7,572.6 370.1,571.6 372.1,570.7 C374.2,569.7 375.6,568.3 376.7,567.3 C377.8,566.3 378.4,565.1 378.7,564.6"/>
<path class="k" d="M364.4,577.5 C365.7,577.1 370.1,576.2 372.1,575.2 C374.2,574.3 375.6,572.9 376.7,571.9 C377.8,570.9 378.4,569.6 378.7,569.2"/>
<path class="k" d="M364.4,582 C365.7,581.7 370.1,580.7 372.1,579.8 C374.2,578.9 375.6,577.4 376.7,576.4 C377.8,575.4 378.4,574.2 378.7,573.7"/>
<path class="k" d="M364.4,586.6 C365.7,586.2 370.1,585.3 372.1,584.3 C374.2,583.4 375.6,582 376.7,581 C377.8,580 378.4,578.7 378.7,578.3"/>
<path class="k" d="M364.4,591.1 C365.7,590.8 370.1,589.8 372.1,588.9 C374.2,588 375.6,586.5 376.7,585.5 C377.8,584.5 378.4,583.3 378.7,582.8"/>
<path class="k" d="M364.4,595.7 C365.7,595.3 370.1,594.4 372.1,593.4 C374.2,592.5 375.6,591.1 376.7,590.1 C377.8,589.1 378.4,587.8 378.7,587.4"/>
<path class="k" d="M364.4,600.2 C365.7,599.9 370.1,598.9 372.1,598 C374.2,597.1 375.6,595.6 376.7,594.6 C377.8,593.6 378.4,592.4 378.7,591.9"/>
<path class="k" d="M364.4,604.8 C365.7,604.4 370.1,603.5 372.1,602.6 C374.2,601.6 375.6,600.2 376.7,599.2 C377.8,598.2 378.4,596.9 378.7,596.5"/>
<path class="k" d="M364.4,609.4 C365.7,609 370.1,608 372.1,607.1 C374.2,606.2 375.6,604.7 376.7,603.7 C377.8,602.7 378.4,601.5 378.7,601.1"/>
<path class="k" d="M364.4,613.9 C365.7,613.5 370.1,612.6 372.1,611.7 C374.2,610.7 375.6,609.3 376.7,608.3 C377.8,607.3 378.4,606.1 378.7,605.6"/>
<path class="k" d="M364.1,515.6 C365.2,515.3 368.7,514.5 370.5,513.7 C372.3,513 374.1,511.5 374.8,511.1"/>
<path class="k" d="M335.3,512.7 C335.5,512.9 336.5,513.6 336.7,514.2 C336.9,514.7 336.7,515.4 336.5,515.9 C336.3,516.4 335.7,517 335.5,517.2"/>
<path class="k" d="M335.3,517.2 C335.5,517.5 336.5,518.2 336.7,518.7 C336.9,519.3 336.7,519.9 336.5,520.4 C336.3,521 335.7,521.6 335.5,521.8"/>
<path class="k" d="M335.3,521.8 C335.5,522 336.5,522.7 336.7,523.3 C336.9,523.8 336.7,524.5 336.5,525 C336.3,525.5 335.7,526.1 335.5,526.3"/>
<path class="k" d="M335.3,526.3 C335.5,526.6 336.5,527.3 336.7,527.8 C336.9,528.4 336.7,529 336.5,529.5 C336.3,530.1 335.7,530.7 335.5,530.9"/>
<path class="k" d="M335.3,530.9 C335.5,531.1 336.5,531.9 336.7,532.4 C336.9,532.9 336.7,533.6 336.5,534.1 C336.3,534.6 335.7,535.2 335.5,535.4"/>
<path class="k" d="M335.3,535.4 C335.5,535.7 336.5,536.4 336.7,536.9 C336.9,537.5 336.7,538.1 336.5,538.7 C336.3,539.2 335.7,539.8 335.5,540"/>
<path class="k" d="M335.3,540 C335.5,540.2 336.5,541 336.7,541.5 C336.9,542 336.7,542.7 336.5,543.2 C336.3,543.7 335.7,544.3 335.5,544.5"/>
<path class="k" d="M335.3,544.5 C335.5,544.8 336.5,545.5 336.7,546 C336.9,546.6 336.7,547.2 336.5,547.8 C336.3,548.3 335.7,548.9 335.5,549.1"/>
<path class="k" d="M335.3,549.1 C335.5,549.3 336.5,550.1 336.7,550.6 C336.9,551.1 336.7,551.8 336.5,552.3 C336.3,552.8 335.7,553.4 335.5,553.7"/>
<path class="k" d="M335.3,553.7 C335.5,553.9 336.5,554.6 336.7,555.1 C336.9,555.7 336.7,556.4 336.5,556.9 C336.3,557.4 335.7,558 335.5,558.2"/>
<path class="k" d="M335.3,558.2 C335.5,558.5 336.5,559.2 336.7,559.7 C336.9,560.2 336.7,560.9 336.5,561.4 C336.3,561.9 335.7,562.5 335.5,562.8"/>
<path class="k" d="M335.3,562.8 C335.5,563 336.5,563.7 336.7,564.3 C336.9,564.8 336.7,565.5 336.5,566 C336.3,566.5 335.7,567.1 335.5,567.3"/>
<path class="k" d="M335.3,567.3 C335.5,567.6 336.5,568.3 336.7,568.8 C336.9,569.3 336.7,570 336.5,570.5 C336.3,571 335.7,571.6 335.5,571.9"/>
<path class="k" d="M335.3,571.9 C335.5,572.1 336.5,572.8 336.7,573.4 C336.9,573.9 336.7,574.6 336.5,575.1 C336.3,575.6 335.7,576.2 335.5,576.4"/>
<path class="k" d="M335.3,576.4 C335.5,576.7 336.5,577.4 336.7,577.9 C336.9,578.4 336.7,579.1 336.5,579.6 C336.3,580.1 335.7,580.7 335.5,581"/>
<path class="k" d="M335.3,581 C335.5,581.2 336.5,581.9 336.7,582.5 C336.9,583 336.7,583.7 336.5,584.2 C336.3,584.7 335.7,585.3 335.5,585.5"/>
<path class="k" d="M335.3,585.5 C335.5,585.8 336.5,586.5 336.7,587 C336.9,587.6 336.7,588.2 336.5,588.7 C336.3,589.2 335.7,589.8 335.5,590.1"/>
<path class="k" d="M335.3,590.1 C335.5,590.3 336.5,591 336.7,591.6 C336.9,592.1 336.7,592.8 336.5,593.3 C336.3,593.8 335.7,594.4 335.5,594.6"/>
<path class="k" d="M335.3,594.6 C335.5,594.9 336.5,595.6 336.7,596.1 C336.9,596.7 336.7,597.3 336.5,597.8 C336.3,598.3 335.7,599 335.5,599.2"/>
<path class="k" d="M335.3,599.2 C335.5,599.4 336.5,600.1 336.7,600.7 C336.9,601.2 336.7,601.9 336.5,602.4 C336.3,602.9 335.7,603.5 335.5,603.7"/>
<path class="k" d="M335.3,603.7 C335.5,604 336.5,604.7 336.7,605.2 C336.9,605.8 336.7,606.4 336.5,606.9 C336.3,607.5 335.7,608.1 335.5,608.3"/>
<path class="k" d="M335.3,608.3 C335.5,608.5 336.5,609.2 336.7,609.8 C336.9,610.3 336.7,611 336.5,611.5 C336.3,612 335.7,612.6 335.5,612.8"/>
<path class="k" d="M335.3,612.8 C335.5,613.1 336.5,613.8 336.7,614.3 C336.9,614.9 336.7,615.5 336.5,616 C336.3,616.6 335.7,617.2 335.5,617.4"/>
<path class="k" d="M336.7,616.7 C338.1,617.4 341.6,619.7 345,620.6 C348.3,621.6 353,622.5 357,622.4 C361,622.4 365.4,621.4 369,620.2 C372.5,618.9 376.7,615.8 378.2,614.9"/>
<path class="k" d="M339,631.1 C340.4,631.7 344.4,633.8 347.5,634.5 C350.7,635.2 354.4,635.6 357.9,635.4 C361.5,635.2 366.1,634.4 369,633.6 C371.9,632.7 374.3,630.8 375.4,630.2"/>
<path class="kw" d="M324.4,472 L324.6,470.8 L325.1,469.6 L325.9,468.4 L327.1,467.2 L328.6,466.1 L330.4,465.1 L332.4,464.2 L334.7,463.3 L337.3,462.5 L340,461.9 L342.9,461.3 L346,460.9 L349.1,460.6 L352.3,460.4 L355.6,460.3 L358.9,460.4 L362.1,460.6 L365.2,460.9 L368.3,461.3 L371.2,461.9 L373.9,462.5 L376.5,463.3 L378.8,464.2 L380.8,465.1 L382.6,466.1 L384.1,467.2 L385.3,468.4 L386.1,469.6 L386.6,470.8 L386.8,472 L386.8,475  L386.6,476.2 L386.1,477.4 L385.3,478.6 L384.1,479.8 L382.6,480.9 L380.8,481.9 L378.8,482.8 L376.5,483.7 L373.9,484.5 L371.2,485.1 L368.3,485.7 L365.2,486.1 L362.1,486.4 L358.9,486.6 L355.6,486.7 L352.3,486.6 L349.1,486.4 L346,486.1 L342.9,485.7 L340,485.1 L337.3,484.5 L334.7,483.7 L332.4,482.8 L330.4,481.9 L328.6,480.9 L327.1,479.8 L325.9,478.6 L325.1,477.4 L324.6,476.2 L324.4,475 Z"/>
<path class="k" d="M386,474.6 L385.1,475.8 L383.8,477 L382.2,478.1 L380.3,479.1 L378.1,480.1 L375.7,481 L373,481.7 L370.1,482.4 L367.1,482.9 L363.9,483.3 L360.6,483.5 L357.3,483.7 L353.9,483.7 L350.6,483.5 L347.3,483.3 L344.1,482.9 L341.1,482.4 L338.2,481.7 L335.5,481 L333.1,480.1 L330.9,479.1 L329,478.1 L327.4,477 L326.1,475.8 L325.2,474.6"/>
<path class="k" d="M378.6,473.2 L378.5,474 L378.1,474.9 L377.5,475.7 L376.6,476.5 L375.5,477.2 L374.2,478 L372.7,478.6 L371,479.2 L369.1,479.8 L367.1,480.2 L365,480.6 L362.7,480.9 L360.4,481.1 L358,481.3 L355.6,481.3 L353.2,481.3 L350.8,481.1 L348.5,480.9 L346.2,480.6 L344.1,480.2 L342.1,479.8 L340.2,479.2 L338.5,478.6 L337,478 L335.7,477.2 L334.6,476.5 L333.7,475.7 L333.1,474.9 L332.7,474 L332.6,473.2 L332.7,472.4 L333.1,471.5 L333.7,470.7 L334.6,469.9 L335.7,469.1 L337,468.4 L338.5,467.8 L340.2,467.2 L342.1,466.6 L344.1,466.2 L346.2,465.8 L348.5,465.5 L350.8,465.3 L353.2,465.1 L355.6,465.1 L358,465.1 L360.4,465.3 L362.7,465.5 L365,465.8 L367.1,466.2 L369.1,466.6 L371,467.2 L372.7,467.8 L374.2,468.4 L375.5,469.1 L376.6,469.9 L377.5,470.7 L378.1,471.5 L378.5,472.4 Z"/>
<path class="k" d="M334.6,472.8 L335.6,472 L336.7,471.3 L338.1,470.6 L339.6,469.9 L341.4,469.4 L343.3,468.8 L345.3,468.4 L347.5,468.1 L349.7,467.8 L352.1,467.6 L354.4,467.5 L356.8,467.5 L359.1,467.6 L361.5,467.8 L363.7,468.1 L365.9,468.4 L367.9,468.8 L369.8,469.4 L371.6,469.9 L373.1,470.6 L374.5,471.3 L375.6,472 L376.6,472.8"/>
<path class="kw" d="M324.2,451.7 L324.4,450.5 L324.9,449.3 L325.7,448.1 L326.9,446.9 L328.4,445.8 L330.2,444.8 L332.2,443.9 L334.5,443 L337.1,442.2 L339.8,441.6 L342.7,441 L345.8,440.6 L348.9,440.3 L352.1,440.1 L355.4,440 L358.7,440.1 L361.9,440.3 L365,440.6 L368.1,441 L371,441.6 L373.7,442.2 L376.3,443 L378.6,443.9 L380.6,444.8 L382.4,445.8 L383.9,446.9 L385.1,448.1 L385.9,449.3 L386.4,450.5 L386.6,451.7 L386.6,454.7  L386.4,455.9 L385.9,457.1 L385.1,458.3 L383.9,459.5 L382.4,460.6 L380.6,461.6 L378.6,462.5 L376.3,463.4 L373.7,464.2 L371,464.8 L368.1,465.4 L365,465.8 L361.9,466.1 L358.7,466.3 L355.4,466.4 L352.1,466.3 L348.9,466.1 L345.8,465.8 L342.7,465.4 L339.8,464.8 L337.1,464.2 L334.5,463.4 L332.2,462.5 L330.2,461.6 L328.4,460.6 L326.9,459.5 L325.7,458.3 L324.9,457.1 L324.4,455.9 L324.2,454.7 Z"/>
<path class="k" d="M385.8,454.3 L384.9,455.5 L383.6,456.7 L382,457.8 L380.1,458.8 L377.9,459.8 L375.5,460.7 L372.8,461.4 L369.9,462.1 L366.9,462.6 L363.7,463 L360.4,463.2 L357.1,463.4 L353.7,463.4 L350.4,463.2 L347.1,463 L343.9,462.6 L340.9,462.1 L338,461.4 L335.3,460.7 L332.9,459.8 L330.7,458.8 L328.8,457.8 L327.2,456.7 L325.9,455.5 L325,454.3"/>
<path class="k" d="M378.4,452.9 L378.3,453.7 L377.9,454.6 L377.3,455.4 L376.4,456.2 L375.3,456.9 L374,457.7 L372.5,458.3 L370.8,458.9 L368.9,459.5 L366.9,459.9 L364.8,460.3 L362.5,460.6 L360.2,460.8 L357.8,461 L355.4,461 L353,461 L350.6,460.8 L348.3,460.6 L346,460.3 L343.9,459.9 L341.9,459.5 L340,458.9 L338.3,458.3 L336.8,457.7 L335.5,456.9 L334.4,456.2 L333.5,455.4 L332.9,454.6 L332.5,453.7 L332.4,452.9 L332.5,452.1 L332.9,451.2 L333.5,450.4 L334.4,449.6 L335.5,448.8 L336.8,448.1 L338.3,447.5 L340,446.9 L341.9,446.3 L343.9,445.9 L346,445.5 L348.3,445.2 L350.6,445 L353,444.8 L355.4,444.8 L357.8,444.8 L360.2,445 L362.5,445.2 L364.8,445.5 L366.9,445.9 L368.9,446.3 L370.8,446.9 L372.5,447.5 L374,448.1 L375.3,448.8 L376.4,449.6 L377.3,450.4 L377.9,451.2 L378.3,452.1 Z"/>
<path class="k" d="M334.4,452.5 L335.4,451.7 L336.5,451 L337.9,450.3 L339.4,449.6 L341.2,449.1 L343.1,448.5 L345.1,448.1 L347.3,447.8 L349.5,447.5 L351.9,447.3 L354.2,447.2 L356.6,447.2 L358.9,447.3 L361.3,447.5 L363.5,447.8 L365.7,448.1 L367.7,448.5 L369.6,449.1 L371.4,449.6 L372.9,450.3 L374.3,451 L375.4,451.7 L376.4,452.5"/>
<path class="kw" d="M320.4,407.3 L320.6,405.9 L321.1,404.6 L322.1,403.2 L323.4,401.9 L325,400.7 L327,399.5 L329.2,398.5 L331.7,397.5 L334.5,396.6 L337.5,395.9 L340.7,395.2 L344.1,394.7 L347.6,394.4 L351.1,394.2 L354.7,394.1 L358.3,394.2 L361.8,394.4 L365.3,394.7 L368.7,395.2 L371.8,395.9 L374.9,396.6 L377.7,397.5 L380.2,398.5 L382.4,399.5 L384.4,400.7 L386,401.9 L387.3,403.2 L388.3,404.6 L388.8,405.9 L389,407.3 L389,417.8  L388.8,419.2 L388.3,420.5 L387.3,421.9 L386,423.2 L384.4,424.4 L382.4,425.6 L380.2,426.6 L377.7,427.6 L374.9,428.5 L371.8,429.2 L368.7,429.9 L365.3,430.4 L361.8,430.7 L358.3,430.9 L354.7,431 L351.1,430.9 L347.6,430.7 L344.1,430.4 L340.7,429.9 L337.6,429.2 L334.5,428.5 L331.7,427.6 L329.2,426.6 L327,425.6 L325,424.4 L323.4,423.2 L322.1,421.9 L321.1,420.5 L320.6,419.2 L320.4,417.8 Z"/>
<path class="k" d="M388.1,410.3 L387.1,411.6 L385.7,412.9 L384,414.2 L381.9,415.4 L379.5,416.4 L376.8,417.4 L373.8,418.3 L370.7,419 L367.3,419.6 L363.8,420 L360.2,420.3 L356.5,420.5 L352.9,420.5 L349.2,420.3 L345.6,420 L342.1,419.6 L338.7,419 L335.6,418.3 L332.6,417.4 L329.9,416.4 L327.5,415.4 L325.4,414.2 L323.7,412.9 L322.3,411.6 L321.3,410.3"/>
<path class="k" d="M379.7,407.7 L379.6,408.6 L379.2,409.6 L378.5,410.5 L377.5,411.4 L376.4,412.2 L374.9,413 L373.3,413.7 L371.4,414.4 L369.4,415 L367.2,415.5 L364.9,415.9 L362.4,416.3 L359.9,416.5 L357.3,416.7 L354.7,416.7 L352.1,416.7 L349.5,416.5 L347,416.3 L344.5,415.9 L342.2,415.5 L340,415 L338,414.4 L336.1,413.7 L334.5,413 L333,412.2 L331.9,411.4 L330.9,410.5 L330.2,409.6 L329.8,408.6 L329.7,407.7 L329.8,406.8 L330.2,405.8 L330.9,404.9 L331.9,404 L333,403.2 L334.5,402.4 L336.1,401.7 L338,401 L340,400.4 L342.2,399.9 L344.5,399.5 L347,399.1 L349.5,398.9 L352.1,398.7 L354.7,398.7 L357.3,398.7 L359.9,398.9 L362.4,399.1 L364.9,399.5 L367.2,399.9 L369.4,400.4 L371.4,401 L373.3,401.7 L374.9,402.4 L376.4,403.2 L377.5,404 L378.5,404.9 L379.2,405.8 L379.6,406.8 Z"/>
<path class="k" d="M331.9,413 L332.9,412.1 L334.2,411.3 L335.7,410.5 L337.4,409.8 L339.3,409.2 L341.3,408.6 L343.5,408.1 L345.9,407.7 L348.3,407.4 L350.9,407.2 L353.4,407.1 L356,407.1 L358.5,407.2 L361.1,407.4 L363.5,407.7 L365.9,408.1 L368.1,408.6 L370.1,409.2 L372,409.8 L373.7,410.5 L375.2,411.3 L376.5,412.1 L377.5,413"/>
<path class="kw" d="M310.5,364.4 L310.7,362.8 L311.5,361.2 L312.6,359.7 L314.3,358.2 L316.3,356.8 L318.8,355.4 L321.7,354.2 L324.9,353 L328.5,352 L332.3,351.1 L336.4,350.4 L340.6,349.8 L345,349.4 L349.5,349.2 L354.1,349.1 L358.7,349.2 L363.2,349.4 L367.6,349.8 L371.8,350.4 L375.9,351.1 L379.7,352 L383.3,353 L386.5,354.2 L389.4,355.4 L391.9,356.7 L393.9,358.2 L395.6,359.7 L396.7,361.2 L397.5,362.8 L397.7,364.4 L397.7,368.4  L397.5,370 L396.7,371.6 L395.6,373.1 L393.9,374.6 L391.9,376 L389.4,377.4 L386.5,378.6 L383.3,379.8 L379.7,380.8 L375.9,381.7 L371.8,382.4 L367.6,383 L363.2,383.4 L358.7,383.6 L354.1,383.7 L349.5,383.6 L345,383.4 L340.6,383 L336.4,382.4 L332.3,381.7 L328.5,380.8 L324.9,379.8 L321.7,378.6 L318.8,377.4 L316.3,376 L314.3,374.6 L312.6,373.1 L311.5,371.6 L310.7,370 L310.5,368.4 Z"/>
<path class="k" d="M396.6,367.8 L395.3,369.4 L393.5,370.9 L391.3,372.4 L388.6,373.7 L385.6,375 L382.1,376.1 L378.4,377.1 L374.4,377.9 L370.1,378.6 L365.7,379.2 L361.1,379.5 L356.4,379.7 L351.8,379.7 L347.1,379.5 L342.5,379.2 L338.1,378.6 L333.8,377.9 L329.8,377.1 L326.1,376.1 L322.6,375 L319.6,373.7 L316.9,372.4 L314.7,370.9 L312.9,369.4 L311.6,367.8"/>
<path class="k" d="M377.3,362.7 L377.2,363.6 L376.8,364.4 L376.2,365.3 L375.3,366.1 L374.2,366.9 L372.9,367.6 L371.3,368.3 L369.6,368.9 L367.7,369.5 L365.7,370 L363.5,370.4 L361.3,370.7 L358.9,370.9 L356.5,371.1 L354.1,371.1 L351.7,371.1 L349.3,370.9 L346.9,370.7 L344.7,370.4 L342.5,370 L340.5,369.5 L338.6,368.9 L336.9,368.3 L335.3,367.6 L334,366.9 L332.9,366.1 L332,365.3 L331.4,364.4 L331,363.6 L330.9,362.7 L331,361.8 L331.4,361 L332,360.1 L332.9,359.3 L334,358.5 L335.3,357.8 L336.9,357.1 L338.6,356.5 L340.5,355.9 L342.5,355.4 L344.7,355 L346.9,354.7 L349.3,354.5 L351.7,354.3 L354.1,354.3 L356.5,354.3 L358.9,354.5 L361.3,354.7 L363.5,355 L365.7,355.4 L367.7,355.9 L369.6,356.5 L371.3,357.1 L372.9,357.8 L374.2,358.5 L375.3,359.3 L376.2,360.1 L376.8,361 L377.2,361.8 Z"/>
<path class="k" d="M333,363 L333.9,362.2 L335.1,361.4 L336.4,360.7 L338,360 L339.8,359.4 L341.7,358.9 L343.7,358.4 L345.9,358.1 L348.2,357.8 L350.5,357.6 L352.9,357.5 L355.3,357.5 L357.7,357.6 L360,357.8 L362.3,358.1 L364.5,358.4 L366.5,358.9 L368.4,359.4 L370.2,360 L371.8,360.7 L373.1,361.4 L374.3,362.2 L375.2,363"/>
<path class="kw" d="M310.3,340 L310.5,338.4 L311.3,336.8 L312.4,335.3 L314.1,333.8 L316.1,332.4 L318.6,331 L321.5,329.8 L324.7,328.6 L328.3,327.6 L332.1,326.7 L336.2,326 L340.4,325.4 L344.8,325 L349.3,324.8 L353.9,324.7 L358.5,324.8 L363,325 L367.4,325.4 L371.6,326 L375.7,326.7 L379.5,327.6 L383.1,328.6 L386.3,329.8 L389.2,331 L391.7,332.3 L393.7,333.8 L395.4,335.3 L396.5,336.8 L397.3,338.4 L397.5,340 L397.5,344  L397.3,345.6 L396.5,347.2 L395.4,348.7 L393.7,350.2 L391.7,351.6 L389.2,353 L386.3,354.2 L383.1,355.4 L379.5,356.4 L375.7,357.3 L371.6,358 L367.4,358.6 L363,359 L358.5,359.2 L353.9,359.3 L349.3,359.2 L344.8,359 L340.4,358.6 L336.2,358 L332.1,357.3 L328.3,356.4 L324.7,355.4 L321.5,354.2 L318.6,353 L316.1,351.6 L314.1,350.2 L312.4,348.7 L311.3,347.2 L310.5,345.6 L310.3,344 Z"/>
<path class="k" d="M396.4,343.4 L395.1,345 L393.3,346.5 L391.1,348 L388.4,349.3 L385.4,350.6 L381.9,351.7 L378.2,352.7 L374.2,353.5 L369.9,354.2 L365.5,354.8 L360.9,355.1 L356.2,355.3 L351.6,355.3 L346.9,355.1 L342.3,354.8 L337.9,354.2 L333.6,353.5 L329.6,352.7 L325.9,351.7 L322.4,350.6 L319.4,349.3 L316.7,348 L314.5,346.5 L312.7,345 L311.4,343.4"/>
<path class="k" d="M377.1,338.3 L377,339.2 L376.6,340 L376,340.9 L375.1,341.7 L374,342.5 L372.7,343.2 L371.1,343.9 L369.4,344.5 L367.5,345.1 L365.5,345.6 L363.3,346 L361.1,346.3 L358.7,346.5 L356.3,346.7 L353.9,346.7 L351.5,346.7 L349.1,346.5 L346.7,346.3 L344.5,346 L342.3,345.6 L340.3,345.1 L338.4,344.5 L336.7,343.9 L335.1,343.2 L333.8,342.5 L332.7,341.7 L331.8,340.9 L331.2,340 L330.8,339.2 L330.7,338.3 L330.8,337.4 L331.2,336.6 L331.8,335.7 L332.7,334.9 L333.8,334.1 L335.1,333.4 L336.7,332.7 L338.4,332.1 L340.3,331.5 L342.3,331 L344.5,330.6 L346.7,330.3 L349.1,330.1 L351.5,329.9 L353.9,329.9 L356.3,329.9 L358.7,330.1 L361.1,330.3 L363.3,330.6 L365.5,331 L367.5,331.5 L369.4,332.1 L371.1,332.7 L372.7,333.4 L374,334.1 L375.1,334.9 L376,335.7 L376.6,336.6 L377,337.4 Z"/>
<path class="k" d="M332.8,338.6 L333.7,337.8 L334.9,337 L336.2,336.3 L337.8,335.6 L339.6,335 L341.5,334.5 L343.5,334 L345.7,333.7 L348,333.4 L350.3,333.2 L352.7,333.1 L355.1,333.1 L357.5,333.2 L359.8,333.4 L362.1,333.7 L364.3,334 L366.3,334.5 L368.2,335 L370,335.6 L371.6,336.3 L372.9,337 L374.1,337.8 L375,338.6"/>
<path class="kw" d="M299.2,259.4 C300.9,259 305.3,257.9 309.4,257.2 C313.6,256.4 319.2,255.6 324,255.1 C328.9,254.6 333.8,254.4 338.6,254.2 C343.5,254.1 347.5,253.9 353.2,254.4 C358.9,255 367,256.2 372.6,257.6 C378.3,259.1 383.2,261 387.2,263 C391.3,264.9 394.5,267.3 397,269.3 C399.4,271.3 400.8,273.5 401.8,275.1 C402.9,276.8 403,278.4 403.3,279 L402.8,293.6 C401.8,294.9 399.5,299.1 397,301.4 C394.4,303.7 391.3,305.4 387.2,307.2 C383.2,309 378.3,310.7 372.6,312.1 C367,313.5 359.2,314.8 353.2,315.5 C347.2,316.2 341,316.4 336.7,316.5 C332.4,316.5 329,316.1 327.4,316 L327.4,302.2 L326,302.9 C324.4,302.3 318.8,300.7 316.3,299.4 C313.7,298.2 312,296.9 310.9,295.6 C309.9,294.3 310.1,292.3 309.9,291.7 L309.9,276.1 L299.2,273.7 Z"/>
<path class="k" d="M299.2,259.6 C300.6,259.9 304.7,261 307.5,261.7 C310.3,262.5 314.5,263.3 316.3,264 C318,264.6 318.1,264.9 318,265.6 C317.9,266.3 316.8,267.2 315.8,268.3 C314.7,269.4 312.9,270.8 311.9,272.2 C310.9,273.7 310,275.5 309.7,277.1 C309.4,278.6 310.1,280.7 310.1,281.5"/>
<path class="k" d="M313.8,284.4 C315.2,285 319.2,287.2 322.1,288.3 C324.9,289.3 328.4,290 330.8,290.7 C333.2,291.4 335.3,291.8 336.5,292.4 C337.6,293.1 338.1,293.7 337.6,294.6 C337.2,295.5 335.5,296.7 333.8,298 C332.1,299.3 328.5,301.5 327.4,302.2"/>
<path class="k" d="M330.8,302.6 C332.5,302.6 336.8,303.1 340.6,303 C344.3,303 348.7,303 353.2,302.4 C357.7,301.8 362.9,300.7 367.8,299.4 C372.6,298.2 378.2,296.2 382.4,294.6 C386.6,293 390.3,291 393.1,289.7 C395.8,288.5 397.9,287.5 398.9,287"/>
<path class="k" d="M329.9,278.1 C330.4,277.3 331.3,274.9 332.8,273.7 C334.2,272.4 336.8,271.2 338.6,270.5 C340.4,269.7 342.7,269.3 343.5,269.1"/>
<path class="k" d="M348.3,268.8 L350.5,269.1"/>
<path class="k" d="M356.1,270.5 L374.6,274.7 C374.8,274.9 376,275.6 376,276.3 C376,277 375.6,278 374.6,279 C373.5,280.1 371.9,281.4 369.7,282.4 C367.5,283.5 362.8,284.9 361.5,285.4 L329.9,278.1"/>
<path class="k" d="M346.9,272.2 L346.9,278.5"/>
<path class="kw" d="M316.2,225.8 C317.4,224.9 320.9,221.8 323.5,220.1 C326.1,218.5 328.8,217 331.8,216 C334.7,215 338,214.4 341.3,214 C344.6,213.5 349.2,213.5 351.5,213.4 C353.8,213.4 353,213.3 355.3,213.4 C357.6,213.6 362.3,213.8 365.5,214.4 C368.7,215 371.5,216 374.4,217.3 C377.2,218.5 380.1,220.5 382.6,222 C385.1,223.6 388.2,225.7 389.3,226.5 L389.3,238.6 C388.2,239.4 385.1,242.2 382.6,243.6 C380.1,245.1 376.8,246.5 374.4,247.5 C371.9,248.4 369.9,248.9 368,249.4 C366.1,249.9 364.6,250.2 362.9,250.5 C361.2,250.8 359.6,251.1 357.8,251.3 C356,251.5 354,251.7 352.1,251.7 C350.2,251.7 348.2,251.5 346.4,251.3 C344.6,251.1 343.4,250.8 341.3,250.4 C339.2,250 335.5,249.1 334,248.7 C332.5,248.3 334.2,248.7 332.4,248 C330.7,247.2 326.2,245.8 323.5,244.3 C320.8,242.7 317.4,239.5 316.2,238.6 Z"/>
<path class="k" d="M322.2,227.1 L321.9,226 L322,225 L322.4,223.9 L323.2,222.9 L324.3,221.9 L325.8,220.9 L327.6,220 L329.6,219.1 L332,218.4 L334.6,217.7 L337.4,217.1 L340.3,216.6 L343.5,216.2 L346.7,215.9 L350,215.7 L353.4,215.7 L356.8,215.7 L360.1,215.9 L363.3,216.2 L366.4,216.6 L369.4,217.1 L372.2,217.7 L374.8,218.4 L377.1,219.1 L379.2,220 L381,220.9 L382.4,221.9 L383.6,222.9 L384.3,223.9 L384.8,225 L384.8,226 L384.6,227.1"/>
<path class="k" d="M318.7,227.8 L331.5,236"/>
<path class="k" d="M386.1,228.7 L369.9,237.3"/>
<path class="k" d="M334,238.6 L334,248.7"/>
<path class="k" d="M368,239.8 L368,249.4"/>
<path class="k" d="M338.1,237.9 C339.3,237.6 342.8,236.4 345.1,236 C347.5,235.6 349.8,235.4 352.1,235.4 C354.5,235.4 357,235.6 359.1,236 C361.2,236.4 363.9,237.6 364.8,237.9"/>
<path class="k" d="M336.9,248.9 C338.1,249.2 342,250.3 344.5,250.8 C347,251.2 349.6,251.4 352.1,251.4 C354.7,251.4 357.3,251.2 359.8,250.8 C362.2,250.4 365.6,249.3 366.7,249"/>
<path class="k" d="M376.8,227 L376.1,227.8 L375,228.7 L373.7,229.5 L372.2,230.2 L370.5,230.9 L368.6,231.5 L366.5,232.1 L364.3,232.5 L362,232.9 L359.5,233.2 L357,233.4 L354.5,233.5 L351.9,233.5 L349.4,233.4 L346.9,233.2 L344.4,232.9 L342.1,232.5 L339.9,232.1 L337.8,231.5 L335.9,230.9 L334.2,230.2 L332.7,229.5 L331.4,228.7 L330.4,227.8 L329.6,227"/>
<path class="k" d="M328.8,224.3 L329,223.4 L329.6,222.6 L330.4,221.8 L331.4,221 L332.7,220.3 L334.2,219.6 L335.9,218.9 L337.8,218.4 L339.9,217.9 L342.1,217.4 L344.4,217.1 L346.9,216.8 L349.4,216.7 L351.9,216.6 L354.5,216.6 L357,216.7 L359.5,216.8 L362,217.1 L364.3,217.4 L366.5,217.9 L368.6,218.4 L370.5,218.9 L372.2,219.6 L373.7,220.3 L375,221 L376.1,221.8 L376.8,222.6 L377.4,223.4 L377.6,224.3"/>
<path class="k" d="M333.8,227.7 L333.9,227 L334.3,226.3 L334.9,225.6 L335.7,225 L336.7,224.4 L337.9,223.8 L339.3,223.3 L340.8,222.9 L342.4,222.5 L344.1,222.1 L346,221.8 L347.9,221.6 L349.9,221.5 L351.9,221.4 L354,221.4 L356,221.5 L358,221.6 L359.9,221.8 L361.8,222.1 L363.5,222.5 L365.1,222.9 L366.6,223.3 L368,223.8 L369.2,224.4 L370.2,225 L371,225.6 L371.6,226.3 L372,227 L372.1,227.7"/>
<path class="k" d="M335.6,229.7 C336.5,229.1 338.7,227.3 341.3,226.5 C344,225.6 349.8,224.9 351.5,224.6"/>
<path class="k" d="M338.8,230.4 C339.6,230.1 341.7,228.9 343.9,228.4 C346,227.9 350.2,227.6 351.5,227.4"/>
<path class="k" d="M363.6,224.9 C364.3,225.2 366.9,225.9 368,226.5 C369.2,227 370.1,227.8 370.6,228.1"/>
<path class="k" d="M363.6,228.4 C364.2,228.5 366.3,228.9 367.4,229.1 C368.4,229.4 369.5,229.8 369.9,230"/>
<path class="k" d="M336.2,230.9 C337.5,231.2 341.1,232.4 343.9,232.8 C346.6,233.3 349.8,233.5 352.8,233.5 C355.7,233.4 358.8,233.1 361.7,232.5 C364.5,231.9 368.5,230.4 369.9,230"/>
<path class="k" d="M340.7,230.6 C341.6,230.8 344.4,231.4 346.4,231.7 C348.4,231.9 350.5,232.1 352.8,232.1 C355,232 358.6,231.4 359.8,231.2"/>
<path class="w" d="M341.3,154.3 C340.2,154.5 337.5,154.7 334.7,155.3 C332,156 328.1,157 324.8,158.2 C321.5,159.5 317.9,160.9 314.9,162.8 C311.8,164.6 308.8,167.3 306.6,169.4 C304.4,171.4 302.7,173.7 301.7,175.2 C300.6,176.7 300.6,177.9 300.4,178.5 L300.4,188.4 C300.6,188.7 301,189.6 301.7,190 C302.3,190.5 303.7,191.1 304.1,191.3 L384.2,206.1 C385.8,205.8 386.6,207.4 393.7,204.1 C400.8,200.8 420.4,190.2 426.9,186.3 C433.4,182.5 431.9,181.9 432.9,181 L483.9,115.1 L483.2,113.6 L698.1,149.7 L704.5,123.2 L507.4,79.8 C506.3,79.4 502.6,78 500.5,77.7 C498.4,77.4 496.7,77.5 494.7,78 C492.7,78.4 493.6,78 488.6,80.4 C483.6,82.8 470,89.8 464.9,92.6 C459.7,95.4 459.7,95.7 457.8,97.4 C455.8,99 453.8,101.8 453,102.7 L401.1,169.7 L398.5,167.3 Z"/>
<path class="m" d="M398.5,167.3 L341.3,154.3 C340.2,154.5 337.5,154.7 334.7,155.3 C332,156 328.1,157 324.8,158.2 C321.5,159.5 317.9,160.9 314.9,162.8 C311.8,164.6 308.8,167.3 306.6,169.4 C304.4,171.4 302.7,173.7 301.7,175.2 C300.6,176.7 300.6,177.9 300.4,178.5 L300.4,188.4 C300.6,188.7 301,189.6 301.7,190 C302.3,190.5 303.7,191.1 304.1,191.3 L384.2,206.1 C385.8,205.8 386.6,207.4 393.7,204.1 C400.8,200.8 420.4,190.2 426.9,186.3 C433.4,182.5 431.9,181.9 432.9,181 L483.9,115.1"/>
<path class="m" d="M704.5,123.2 L507.4,79.8 C506.3,79.4 502.6,78 500.5,77.7 C498.4,77.4 496.7,77.5 494.7,78 C492.7,78.4 493.6,78 488.6,80.4 C483.6,82.8 470,89.8 464.9,92.6 C459.7,95.4 459.7,95.7 457.8,97.4 C455.8,99 453.8,101.8 453,102.7"/>
<path class="m" d="M387.8,205.6 C388.8,204.7 391.9,201.9 393.7,199.9 C395.5,198 397.7,195 398.5,194 L461.9,114"/>
<path class="m" d="M388.4,186.3 L453,102.7"/>
<path class="m" d="M461.9,98 C462.5,97.8 464.3,97 465.5,96.8 C466.7,96.5 468.4,96.6 469,96.5 L696.9,135.2"/>
<path class="m" d="M467.2,109.2 C467.6,109.1 468.8,108.7 469.6,108.6 C470.4,108.5 471.6,108.6 472,108.6 L698.1,149.7"/>
<path class="m" d="M305,177.2 L379.3,190.9 M379.3,190.9 C379.9,191 381.4,191.6 382.6,191.5 C383.9,191.5 386.1,190.6 386.8,190.5"/>
<path class="m" d="M329.3,169.8 C330,169.2 331.3,167.1 333.1,166.1 C334.8,165 337.5,164.2 339.7,163.6 C341.9,163 345.2,162.6 346.3,162.4 L376,168.6  C376.4,168.8 377.7,169.2 378.1,169.8 C378.5,170.3 379.1,170.9 378.5,171.9 C377.9,172.8 376.2,174.6 374.4,175.6 C372.6,176.5 369.6,177.3 367.8,177.6 C366,178 364.3,177.6 363.6,177.6 L331.4,171.4 Z"/>
<path class="m" d="M345.3,164 L345.3,171"/>
<path class="mw" d="M704.5,123.2 C706.4,122.9 712.1,121.5 715.9,121.2 C719.8,120.9 722.9,120.6 727.4,121.2 C731.8,121.8 738,123.1 742.6,125 C747.3,126.9 752.1,130.2 755.4,132.7 C758.7,135.1 761,137.2 762.5,139.5 C764,141.9 764.7,144.3 764.5,146.6 C764.3,149 763.2,151.7 761.5,153.8 C759.7,155.8 756.8,157.6 754.1,158.9 C751.4,160.1 748.4,160.9 745.2,161.4 C742,161.9 739.3,162.2 735,161.9 C730.8,161.6 724.4,160.6 719.8,159.4 C715.1,158.1 710.6,155.9 707,154.3 C703.4,152.7 699.6,150.5 698.1,149.7"/>
<path class="m" d="M704.5,123.2 C703.6,124.4 700.6,127.5 699.4,130.1 C698.2,132.7 697.6,135.7 697.4,139 C697.2,142.3 698,147.9 698.1,149.7"/>
<path class="kw" d="M315.4,120.3 C316.6,119.4 320.1,116.3 322.7,114.6 C325.3,113 328,111.5 331,110.5 C333.9,109.5 337.2,108.9 340.5,108.5 C343.8,108 348.4,108 350.7,107.9 C353,107.9 352.2,107.8 354.5,107.9 C356.8,108.1 361.5,108.3 364.7,108.9 C367.9,109.5 370.7,110.5 373.6,111.8 C376.4,113 379.3,115 381.8,116.5 C384.3,118.1 387.4,120.2 388.5,121 L388.5,133.1 C387.4,133.9 384.3,136.7 381.8,138.1 C379.3,139.6 376,141 373.6,142 C371.1,142.9 369.1,143.4 367.2,143.9 C365.3,144.4 363.8,144.7 362.1,145 C360.4,145.3 358.8,145.6 357,145.8 C355.2,146 353.2,146.2 351.3,146.2 C349.4,146.2 347.4,146 345.6,145.8 C343.8,145.6 342.6,145.3 340.5,144.9 C338.4,144.5 334.7,143.6 333.2,143.2 C331.7,142.8 333.4,143.2 331.6,142.5 C329.9,141.7 325.4,140.3 322.7,138.8 C320,137.2 316.6,134 315.4,133.1 Z"/>
<path class="k" d="M321.4,121.6 L321.1,120.5 L321.2,119.5 L321.6,118.4 L322.4,117.4 L323.5,116.4 L325,115.4 L326.8,114.5 L328.8,113.6 L331.2,112.9 L333.8,112.2 L336.6,111.6 L339.5,111.1 L342.7,110.7 L345.9,110.4 L349.2,110.2 L352.6,110.2 L356,110.2 L359.3,110.4 L362.5,110.7 L365.6,111.1 L368.6,111.6 L371.4,112.2 L374,112.9 L376.3,113.6 L378.4,114.5 L380.2,115.4 L381.6,116.4 L382.8,117.4 L383.5,118.4 L384,119.5 L384,120.5 L383.8,121.6"/>
<path class="k" d="M317.9,122.3 L330.7,130.5"/>
<path class="k" d="M385.3,123.2 L369.1,131.8"/>
<path class="k" d="M333.2,133.1 L333.2,143.2"/>
<path class="k" d="M367.2,134.3 L367.2,143.9"/>
<path class="k" d="M337.3,132.4 C338.5,132.1 342,130.9 344.3,130.5 C346.7,130.1 349,129.9 351.3,129.9 C353.7,129.9 356.2,130.1 358.3,130.5 C360.4,130.9 363.1,132.1 364,132.4"/>
<path class="k" d="M336.1,143.4 C337.3,143.7 341.2,144.8 343.7,145.3 C346.2,145.7 348.8,145.9 351.3,145.9 C353.9,145.9 356.5,145.7 359,145.3 C361.4,144.9 364.8,143.8 365.9,143.5"/>
<path class="k" d="M376,121.5 L375.3,122.3 L374.2,123.2 L372.9,124 L371.4,124.7 L369.7,125.4 L367.8,126 L365.7,126.6 L363.5,127 L361.2,127.4 L358.7,127.7 L356.2,127.9 L353.7,128 L351.1,128 L348.6,127.9 L346.1,127.7 L343.6,127.4 L341.3,127 L339.1,126.6 L337,126 L335.1,125.4 L333.4,124.7 L331.9,124 L330.6,123.2 L329.6,122.3 L328.8,121.5"/>
<path class="k" d="M328,118.8 L328.2,117.9 L328.8,117.1 L329.6,116.3 L330.6,115.5 L331.9,114.8 L333.4,114.1 L335.1,113.4 L337,112.9 L339.1,112.4 L341.3,111.9 L343.6,111.6 L346.1,111.3 L348.6,111.2 L351.1,111.1 L353.7,111.1 L356.2,111.2 L358.7,111.3 L361.2,111.6 L363.5,111.9 L365.7,112.4 L367.8,112.9 L369.7,113.4 L371.4,114.1 L372.9,114.8 L374.2,115.5 L375.3,116.3 L376,117.1 L376.6,117.9 L376.8,118.8"/>
<path class="k" d="M333,122.2 L333.1,121.5 L333.5,120.8 L334.1,120.1 L334.9,119.5 L335.9,118.9 L337.1,118.3 L338.5,117.8 L340,117.4 L341.6,117 L343.3,116.6 L345.2,116.3 L347.1,116.1 L349.1,116 L351.1,115.9 L353.2,115.9 L355.2,116 L357.2,116.1 L359.1,116.3 L361,116.6 L362.7,117 L364.3,117.4 L365.8,117.8 L367.2,118.3 L368.4,118.9 L369.4,119.5 L370.2,120.1 L370.8,120.8 L371.2,121.5 L371.3,122.2"/>
<path class="k" d="M334.8,124.2 C335.7,123.6 337.9,121.8 340.5,121 C343.2,120.1 349,119.4 350.7,119.1"/>
<path class="k" d="M338,124.9 C338.8,124.6 340.9,123.4 343.1,122.9 C345.2,122.4 349.4,122.1 350.7,121.9"/>
<path class="k" d="M362.8,119.4 C363.5,119.7 366.1,120.4 367.2,121 C368.4,121.5 369.3,122.3 369.8,122.6"/>
<path class="k" d="M362.8,122.9 C363.4,123 365.5,123.4 366.6,123.6 C367.6,123.9 368.7,124.3 369.1,124.5"/>
<path class="k" d="M335.4,125.4 C336.7,125.7 340.3,126.9 343.1,127.3 C345.8,127.8 349,128 352,128 C354.9,127.9 358,127.6 360.9,127 C363.7,126.4 367.7,124.9 369.1,124.5"/>
<path class="k" d="M339.9,125.1 C340.8,125.3 343.6,125.9 345.6,126.2 C347.6,126.4 349.7,126.6 352,126.6 C354.2,126.5 357.8,125.9 359,125.7"/>
<path class="cv" d="M352.4,65 L352.5,80"/>
<path class="cv" d="M352.5,82.2 L352.8,120.5"/>
<path class="cv" d="M352.8,121.8 L352.8,123.3"/>
<path class="cv" d="M353,148.2 L353.2,173.7"/>
<path class="cv" d="M353.4,203 L353.6,231.4"/>
<path class="cv" d="M353.8,254.2 L354,280.5"/>
<path class="cv" d="M354.2,318 L354.4,343.4"/>
<path class="cv" d="M354.7,386.2 L354.9,414.5"/>
<path class="cv" d="M355.1,433.2 L355.2,456.5"/>
<path class="cv" d="M355.3,469.2 L355.4,480.5"/>
<path class="cv" d="M355.5,493.2 L355.6,507.4"/>
<path class="cv" d="M356.9,686.2 L357,706.4"/>
<path class="cv" d="M357.1,720 L357.3,745.4"/>
<path class="ld" d="M429.4,201.5 L561.9,201.5"/>
<circle class="dot" cx="429.4" cy="201.5" r="1.2"/>
<path class="ld" d="M401.9,242.5 L561.9,242.5"/>
<circle class="dot" cx="401.9" cy="242.5" r="1.2"/>
<path class="ld" d="M414.5,289.4 L561.9,289.4"/>
<circle class="dot" cx="414.5" cy="289.4" r="1.2"/>
<path class="ld" d="M414.5,345.3 L561.9,345.3"/>
<circle class="dot" cx="414.5" cy="345.3" r="1.2"/>
<path class="ld" d="M414.5,358.6 L561.9,358.6"/>
<circle class="dot" cx="414.5" cy="358.6" r="1.2"/>
<path class="ld" d="M402.6,414.1 L561.6,414.1"/>
<circle class="dot" cx="402.6" cy="414.1" r="1.2"/>
<path class="ld" d="M397.2,457.5 L555.9,457.5"/>
<circle class="dot" cx="397.2" cy="457.5" r="1.2"/>
<path class="ld" d="M397.2,471.6 L555.9,471.6"/>
<circle class="dot" cx="397.2" cy="471.6" r="1.2"/>
<path class="ld" d="M402.6,584.7 L561.6,584.7"/>
<circle class="dot" cx="402.6" cy="584.7" r="1.2"/>
<path class="ld" d="M408.6,697.9 L561.6,697.9"/>
<circle class="dot" cx="408.6" cy="697.9" r="1.2"/>
<path class="ld" d="M307.5,615.7 L307.5,537"/>
<circle class="dot" cx="307.5" cy="615.7" r="1.2"/>
<path class="ld" d="M433.3,1029.2 L433.3,1076.2"/>
<circle class="dot" cx="433.3" cy="1029.2" r="1.2"/>
<path class="ld" d="M522.6,986 L522.6,1097.3"/>
<circle class="dot" cx="522.6" cy="986" r="1.2"/>
<path class="ld" d="M629.9,1012.6 L629.9,1122.3"/>
<circle class="dot" cx="629.9" cy="1012.6" r="1.2"/>
<path class="ld" d="M723,1025.6 L723,1143.6"/>
<circle class="dot" cx="723" cy="1025.6" r="1.2"/>
<path class="ld" d="M804.3,1062.8 L804.3,1162.5"/>
<circle class="dot" cx="804.3" cy="1062.8" r="1.2"/>
<path class="ld" d="M885.4,1094.8 L885.4,1180.4"/>
<circle class="dot" cx="885.4" cy="1094.8" r="1.2"/>
<path class="ld" d="M966.4,1154.7 L966.4,1199.9"/>
<circle class="dot" cx="966.4" cy="1154.7" r="1.2"/>
<path class="ld" d="M1105.5,1183.4 L1105.5,1232.8"/>
<circle class="dot" cx="1105.5" cy="1183.4" r="1.2"/>
<text transform="translate(566.1,202.4) scale(0.93,1)" fill="#12305c">40</text>
<text transform="translate(566.1,243.3) scale(0.93,1)" fill="#12305c">41</text>
<text transform="translate(567.9,290.8) scale(0.93,1)" fill="#12305c">37</text>
<text transform="translate(567.9,358.8) scale(0.93,1)" fill="#12305c">36</text>
<text transform="translate(567.8,414.6) scale(0.93,1)" fill="#12305c">28</text>
<text transform="translate(565.2,471.6) scale(0.93,1)" fill="#8ea7b4">26</text>
<text transform="translate(567.8,584.7) scale(0.93,1)" fill="#12305c">24</text>
<text transform="translate(565.2,697.9) scale(0.93,1)" fill="#8ea7b4">27</text>
<text transform="translate(282.7,531) scale(0.93,1)" fill="#12305c">39</text>
<text transform="translate(426.7,1098.6) scale(0.93,1)" fill="#12305c">1</text>
<text transform="translate(514.4,1118.4) scale(0.93,1)" fill="#8ea7b4">9</text>
<text transform="translate(621.8,1143.1) scale(0.93,1)" fill="#12305c">8</text>
<text transform="translate(714.9,1165.5) scale(0.93,1)" fill="#8ea7b4">9</text>
<text transform="translate(795.3,1185.5) scale(0.93,1)" fill="#8ea7b4">4</text>
<text transform="translate(876.7,1204) scale(0.93,1)" fill="#8ea7b4">3</text>
<text transform="translate(957.5,1222.9) scale(0.93,1)" fill="#12305c">2</text>
<text transform="translate(1096.6,1254.9) scale(0.93,1)" fill="#12305c">5</text>
</svg>
</body></html>
